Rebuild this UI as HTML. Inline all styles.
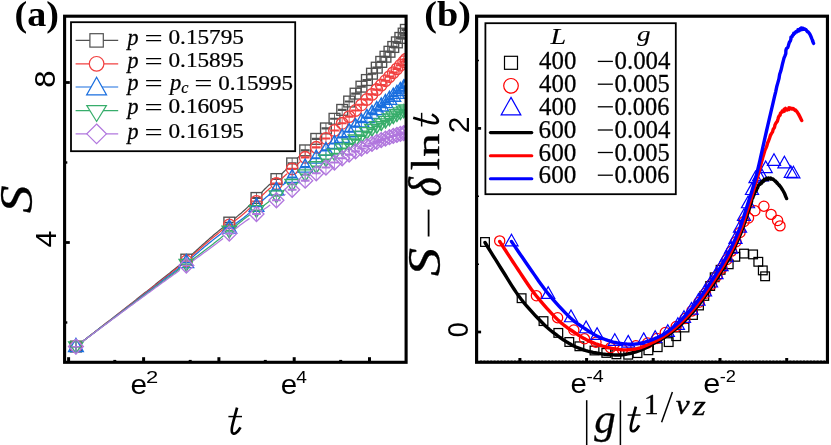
<!DOCTYPE html>
<html><head><meta charset="utf-8"><title>chart</title>
<style>html,body{margin:0;padding:0;background:#fff;}svg{display:block;will-change:transform;}.se{font-family:"Liberation Serif",serif;}.sa{font-family:"Liberation Sans",sans-serif;}</style></head><body>
<svg width="831" height="445" viewBox="0 0 831 445">
<rect x="0" y="0" width="831" height="445" fill="#fff"/>
<defs><clipPath id="ca"><rect x="64.6" y="16.2" width="341.5" height="346.1"/></clipPath>
<clipPath id="cb"><rect x="476.6" y="16.2" width="350.85" height="346.05"/></clipPath></defs>
<g clip-path="url(#ca)">
<polyline points="81.34,342.33 82.3,341.59 83.25,340.85 84.21,340.11 85.16,339.37 86.12,338.63 87.08,337.89 88.03,337.15 88.99,336.41 89.94,335.67 90.9,334.93 91.85,334.19 92.81,333.45 93.77,332.72 94.72,331.98 95.68,331.24 96.63,330.5 97.59,329.76 98.54,329.02 99.49,328.28 100.44,327.54 101.39,326.8 102.34,326.06 103.29,325.32 104.25,324.58 105.2,323.84 106.15,323.1 107.1,322.36 108.05,321.62 109,320.88 109.95,320.14 110.9,319.4 111.85,318.66 112.81,317.92 113.76,317.18 114.71,316.44 115.67,315.69 116.63,314.94 117.58,314.19 118.54,313.44 119.5,312.69 120.46,311.94 121.41,311.19 122.37,310.45 123.33,309.7 124.29,308.95 125.25,308.2 126.2,307.45 127.16,306.7 128.12,305.95 129.09,305.19 130.05,304.43 131.02,303.67 131.99,302.91 132.96,302.15 133.92,301.39 134.89,300.63 135.86,299.87 136.83,299.11 137.79,298.35 138.76,297.59 139.73,296.83 140.67,296.09 141.61,295.34 142.55,294.6 143.5,293.85 144.44,293.11 145.38,292.36 146.33,291.62 147.27,290.87 148.21,290.13 149.15,289.39 150.1,288.64 151.05,287.88 152,287.13 152.95,286.37 153.9,285.62 154.85,284.87 155.8,284.11 156.75,283.36 157.7,282.6 158.65,281.85 159.6,281.09 160.56,280.33 161.51,279.57 162.46,278.81 163.41,278.05 164.36,277.29 165.32,276.53 166.27,275.77 167.24,275 168.22,274.21 169.19,273.43 170.17,272.64 171.15,271.86 172.13,271.07 173.11,270.29 174.07,269.52 175.01,268.76 175.95,268.01 176.88,267.25 177.82,266.5 178.75,265.75 179.69,264.99 180.63,264.23 180.95,263.98" fill="none" stroke="#515151" stroke-width="1.25" stroke-linejoin="round"/>
<polyline points="191.3,255.08 192.23,254.23 193.14,253.39 194.06,252.55 194.98,251.71 195.89,250.87 196.81,250.03 197.72,249.2 198.63,248.37 199.55,247.54 200.46,246.71 201.37,245.89 202.28,245.06 203.19,244.24 204.11,243.43 205.02,242.61 205.93,241.79 206.85,240.98 207.77,240.17 208.69,239.36 209.62,238.56 210.54,237.75 211.47,236.95 212.41,236.15 213.35,235.35 214.29,234.55 215.24,233.75 216.2,232.96 217.17,232.16 218.13,231.37 219.11,230.57 220.11,229.77 221.12,228.97 222.12,228.17 223.09,227.4 224.04,226.66 224.04,226.66" fill="none" stroke="#515151" stroke-width="1.25" stroke-linejoin="round"/>
<polyline points="234.56,218.52 235.58,217.72 236.57,216.92 237.55,216.13 238.53,215.34 239.48,214.54 240.43,213.75 241.38,212.95 242.29,212.14 243.2,211.34 244.11,210.53 245,209.71 245.88,208.89 246.76,208.07 247.71,207.13 248.67,206.19 249.62,205.25 250.54,204.3 251.47,203.35 251.78,203.03" fill="none" stroke="#515151" stroke-width="1.25" stroke-linejoin="round"/>
<polyline points="261.22,192.81 262.13,191.84 263.04,190.88 263.92,189.97 264.81,189.06 265.68,188.2 266.54,187.36 267.44,186.5 268.41,185.59 269.38,184.72 270.34,183.89 270.97,183.34" fill="none" stroke="#515151" stroke-width="1.25" stroke-linejoin="round"/>
<polyline points="281.17,174.41 282.14,173.45 283.12,172.49 284.07,171.54 285.01,170.61 285.94,169.68 286.86,168.76 287.47,168.15" fill="none" stroke="#515151" stroke-width="1.25" stroke-linejoin="round"/>
<polyline points="296.98,158.64 297.97,157.65 298.95,156.66 299.92,155.69 300.24,155.37" fill="none" stroke="#515151" stroke-width="1.25" stroke-linejoin="round"/>
<polyline points="309.81,145.62 310.65,144.76 311.66,143.71 311.66,143.71" fill="none" stroke="#515151" stroke-width="1.25" stroke-linejoin="round"/>
<polyline points="320.94,133.88 321.26,133.53" fill="none" stroke="#515151" stroke-width="1.25" stroke-linejoin="round"/>
<rect x="70.53" y="341.12" width="10.8" height="10.8" fill="none" stroke="#515151" stroke-width="1.35"/>
<line x1="71.53" y1="346.52" x2="80.33" y2="346.52" stroke="#515151" stroke-width="1.27"/>
<line x1="75.93" y1="341.12" x2="75.93" y2="351.92" stroke="#515151" stroke-width="0.85"/>
<rect x="180.94" y="254.21" width="10.8" height="10.8" fill="none" stroke="#515151" stroke-width="1.35"/>
<line x1="181.94" y1="259.61" x2="190.74" y2="259.61" stroke="#515151" stroke-width="1.49"/>
<line x1="186.34" y1="254.21" x2="186.34" y2="265.01" stroke="#515151" stroke-width="0.85"/>
<rect x="223.9" y="217.2" width="10.8" height="10.8" fill="none" stroke="#515151" stroke-width="1.35"/>
<line x1="224.9" y1="222.6" x2="233.7" y2="222.6" stroke="#515151" stroke-width="1.71"/>
<line x1="229.3" y1="217.2" x2="229.3" y2="228" stroke="#515151" stroke-width="0.85"/>
<rect x="251.09" y="192.58" width="10.8" height="10.8" fill="none" stroke="#515151" stroke-width="1.35"/>
<line x1="252.09" y1="197.98" x2="260.89" y2="197.98" stroke="#515151" stroke-width="1.93"/>
<line x1="256.49" y1="192.58" x2="256.49" y2="203.38" stroke="#515151" stroke-width="0.85"/>
<rect x="271.02" y="173.66" width="10.8" height="10.8" fill="none" stroke="#515151" stroke-width="1.35"/>
<line x1="272.02" y1="179.06" x2="280.82" y2="179.06" stroke="#515151" stroke-width="2.1"/>
<line x1="276.42" y1="173.66" x2="276.42" y2="184.46" stroke="#515151" stroke-width="0.85"/>
<rect x="286.76" y="158.01" width="10.8" height="10.8" fill="none" stroke="#515151" stroke-width="1.35"/>
<line x1="287.76" y1="163.41" x2="296.56" y2="163.41" stroke="#515151" stroke-width="2.1"/>
<line x1="292.16" y1="158.01" x2="292.16" y2="168.81" stroke="#515151" stroke-width="0.85"/>
<rect x="299.78" y="144.97" width="10.8" height="10.8" fill="none" stroke="#515151" stroke-width="1.35"/>
<line x1="300.78" y1="150.37" x2="309.58" y2="150.37" stroke="#515151" stroke-width="2.1"/>
<line x1="305.18" y1="144.97" x2="305.18" y2="155.77" stroke="#515151" stroke-width="0.85"/>
<rect x="310.87" y="133.49" width="10.8" height="10.8" fill="none" stroke="#515151" stroke-width="1.35"/>
<line x1="311.87" y1="138.89" x2="320.67" y2="138.89" stroke="#515151" stroke-width="2.1"/>
<line x1="316.27" y1="133.49" x2="316.27" y2="144.29" stroke="#515151" stroke-width="0.85"/>
<rect x="320.54" y="123.01" width="10.8" height="10.8" fill="none" stroke="#515151" stroke-width="1.35"/>
<line x1="321.54" y1="128.41" x2="330.34" y2="128.41" stroke="#515151" stroke-width="2.1"/>
<line x1="325.94" y1="123.01" x2="325.94" y2="133.81" stroke="#515151" stroke-width="0.85"/>
<rect x="329.1" y="113.4" width="10.8" height="10.8" fill="none" stroke="#515151" stroke-width="1.35"/>
<line x1="330.1" y1="118.8" x2="338.9" y2="118.8" stroke="#515151" stroke-width="2.1"/>
<line x1="334.5" y1="113.4" x2="334.5" y2="124.2" stroke="#515151" stroke-width="0.85"/>
<rect x="336.8" y="104.49" width="10.8" height="10.8" fill="none" stroke="#515151" stroke-width="1.35"/>
<line x1="337.8" y1="109.89" x2="346.6" y2="109.89" stroke="#515151" stroke-width="2.1"/>
<line x1="342.2" y1="104.49" x2="342.2" y2="115.29" stroke="#515151" stroke-width="0.85"/>
<rect x="343.77" y="96.14" width="10.8" height="10.8" fill="none" stroke="#515151" stroke-width="1.35"/>
<line x1="344.77" y1="101.54" x2="353.57" y2="101.54" stroke="#515151" stroke-width="2.1"/>
<line x1="349.17" y1="96.14" x2="349.17" y2="106.94" stroke="#515151" stroke-width="0.85"/>
<rect x="350.16" y="88.26" width="10.8" height="10.8" fill="none" stroke="#515151" stroke-width="1.35"/>
<line x1="351.16" y1="93.66" x2="359.96" y2="93.66" stroke="#515151" stroke-width="2.1"/>
<line x1="355.56" y1="88.26" x2="355.56" y2="99.06" stroke="#515151" stroke-width="0.85"/>
<rect x="356.04" y="81.26" width="10.8" height="10.8" fill="none" stroke="#515151" stroke-width="1.35"/>
<line x1="357.04" y1="86.66" x2="365.84" y2="86.66" stroke="#515151" stroke-width="2.1"/>
<line x1="361.44" y1="81.26" x2="361.44" y2="92.06" stroke="#515151" stroke-width="0.85"/>
<rect x="361.5" y="74.62" width="10.8" height="10.8" fill="none" stroke="#515151" stroke-width="1.35"/>
<line x1="362.5" y1="80.02" x2="371.3" y2="80.02" stroke="#515151" stroke-width="2.1"/>
<line x1="366.9" y1="74.62" x2="366.9" y2="85.42" stroke="#515151" stroke-width="0.85"/>
<rect x="366.59" y="68.31" width="10.8" height="10.8" fill="none" stroke="#515151" stroke-width="1.35"/>
<line x1="367.59" y1="73.71" x2="376.39" y2="73.71" stroke="#515151" stroke-width="2.1"/>
<line x1="371.99" y1="68.31" x2="371.99" y2="79.11" stroke="#515151" stroke-width="0.85"/>
<rect x="371.36" y="62.27" width="10.8" height="10.8" fill="none" stroke="#515151" stroke-width="1.35"/>
<line x1="372.36" y1="67.67" x2="381.16" y2="67.67" stroke="#515151" stroke-width="2.1"/>
<line x1="376.76" y1="62.27" x2="376.76" y2="73.07" stroke="#515151" stroke-width="0.85"/>
<rect x="375.84" y="56.49" width="10.8" height="10.8" fill="none" stroke="#515151" stroke-width="1.35"/>
<line x1="376.84" y1="61.89" x2="385.64" y2="61.89" stroke="#515151" stroke-width="2.1"/>
<line x1="381.24" y1="56.49" x2="381.24" y2="67.29" stroke="#515151" stroke-width="0.85"/>
<rect x="380.07" y="51.31" width="10.8" height="10.8" fill="none" stroke="#515151" stroke-width="1.35"/>
<line x1="381.07" y1="56.71" x2="389.87" y2="56.71" stroke="#515151" stroke-width="2.1"/>
<line x1="385.47" y1="51.31" x2="385.47" y2="62.11" stroke="#515151" stroke-width="0.85"/>
<rect x="384.08" y="46.35" width="10.8" height="10.8" fill="none" stroke="#515151" stroke-width="1.35"/>
<line x1="385.08" y1="51.75" x2="393.88" y2="51.75" stroke="#515151" stroke-width="2.1"/>
<line x1="389.48" y1="46.35" x2="389.48" y2="57.15" stroke="#515151" stroke-width="0.85"/>
<rect x="387.88" y="41.57" width="10.8" height="10.8" fill="none" stroke="#515151" stroke-width="1.35"/>
<line x1="388.88" y1="46.97" x2="397.68" y2="46.97" stroke="#515151" stroke-width="2.1"/>
<line x1="393.28" y1="41.57" x2="393.28" y2="52.37" stroke="#515151" stroke-width="0.85"/>
<rect x="391.51" y="36.97" width="10.8" height="10.8" fill="none" stroke="#515151" stroke-width="1.35"/>
<line x1="392.51" y1="42.37" x2="401.31" y2="42.37" stroke="#515151" stroke-width="2.1"/>
<line x1="396.91" y1="36.97" x2="396.91" y2="47.77" stroke="#515151" stroke-width="0.85"/>
<rect x="394.96" y="32.52" width="10.8" height="10.8" fill="none" stroke="#515151" stroke-width="1.35"/>
<line x1="395.96" y1="37.92" x2="404.76" y2="37.92" stroke="#515151" stroke-width="2.1"/>
<line x1="400.36" y1="32.52" x2="400.36" y2="43.32" stroke="#515151" stroke-width="0.85"/>
<rect x="398.26" y="28.22" width="10.8" height="10.8" fill="none" stroke="#515151" stroke-width="1.35"/>
<line x1="399.26" y1="33.62" x2="408.06" y2="33.62" stroke="#515151" stroke-width="2.1"/>
<line x1="403.66" y1="28.22" x2="403.66" y2="39.02" stroke="#515151" stroke-width="0.85"/>
<rect x="400.49" y="24.5" width="10.8" height="10.8" fill="none" stroke="#515151" stroke-width="1.35"/>
<line x1="401.49" y1="29.9" x2="410.29" y2="29.9" stroke="#515151" stroke-width="2.1"/>
<line x1="405.89" y1="24.5" x2="405.89" y2="35.3" stroke="#515151" stroke-width="0.85"/>
<polyline points="81.34,342.36 82.3,341.63 83.25,340.9 84.21,340.16 85.16,339.43 86.12,338.7 87.08,337.96 88.03,337.23 88.99,336.5 89.94,335.76 90.9,335.03 91.85,334.3 92.81,333.56 93.77,332.83 94.72,332.09 95.68,331.36 96.63,330.63 97.59,329.89 98.54,329.16 99.49,328.43 100.44,327.7 101.39,326.96 102.34,326.23 103.29,325.5 104.25,324.77 105.2,324.04 106.15,323.3 107.1,322.57 108.05,321.84 109,321.11 109.95,320.38 110.9,319.64 111.85,318.91 112.81,318.18 113.76,317.45 114.71,316.71 115.67,315.97 116.63,315.23 117.58,314.49 118.54,313.76 119.5,313.02 120.46,312.28 121.41,311.54 122.37,310.8 123.33,310.06 124.29,309.32 125.25,308.58 126.2,307.84 127.16,307.1 128.12,306.36 129.09,305.61 130.05,304.86 131.02,304.12 131.99,303.37 132.96,302.62 133.92,301.87 134.89,301.12 135.86,300.37 136.83,299.62 137.79,298.87 138.76,298.13 139.73,297.38 140.7,296.62 141.67,295.87 142.65,295.11 143.62,294.36 144.59,293.6 145.57,292.85 146.54,292.09 147.51,291.33 148.48,290.58 149.46,289.82 150.42,289.08 151.37,288.34 152.32,287.6 153.27,286.86 154.22,286.12 155.17,285.38 156.12,284.64 157.07,283.9 158.02,283.16 158.97,282.42 159.92,281.68 160.87,280.94 161.82,280.19 162.78,279.45 163.73,278.71 164.68,277.96 165.63,277.22 166.58,276.48 167.56,275.71 168.54,274.95 169.52,274.18 170.5,273.41 171.48,272.65 172.46,271.88 173.44,271.12 174.42,270.35 175.4,269.58 176.38,268.8 177.37,268.03 178.35,267.26 179.33,266.49 180.31,265.72 180.95,265.22" fill="none" stroke="#F14040" stroke-width="1.25" stroke-linejoin="round"/>
<polyline points="191.3,256.53 192.23,255.7 193.14,254.88 194.06,254.06 194.98,253.23 195.89,252.41 196.81,251.59 197.72,250.78 198.63,249.97 199.55,249.16 200.46,248.35 201.37,247.54 202.28,246.73 203.19,245.93 204.11,245.13 205.02,244.34 205.93,243.54 206.85,242.74 207.77,241.96 208.69,241.17 209.62,240.38 210.54,239.6 211.47,238.82 212.41,238.04 213.35,237.27 214.29,236.49 215.24,235.71 216.2,234.94 217.17,234.17 218.13,233.4 219.11,232.63 220.11,231.85 221.12,231.08 222.12,230.3 223.15,229.51 223.85,228.99" fill="none" stroke="#F14040" stroke-width="1.25" stroke-linejoin="round"/>
<polyline points="234.9,220.77 235.91,220.01 236.89,219.25 237.88,218.49 238.85,217.73 239.8,216.97 240.74,216.21 241.72,215.41 242.75,214.55 243.77,213.68 244.78,212.8 245.77,211.92 246.76,211.03 247.71,210.13 248.67,209.24 249.62,208.33 250.54,207.42 251.47,206.51 251.78,206.21" fill="none" stroke="#F14040" stroke-width="1.25" stroke-linejoin="round"/>
<polyline points="261.22,196.43 262.13,195.5 263.04,194.58 263.92,193.72 264.81,192.86 265.77,191.95 266.78,191.02 267.76,190.15 268.74,189.3 269.7,188.5 270.65,187.73 270.97,187.47" fill="none" stroke="#F14040" stroke-width="1.25" stroke-linejoin="round"/>
<polyline points="281.5,178.85 282.47,177.96 283.43,177.07 284.38,176.19 285.32,175.32 286.25,174.45 287.17,173.6 287.17,173.6" fill="none" stroke="#F14040" stroke-width="1.25" stroke-linejoin="round"/>
<polyline points="297.31,164.35 298.3,163.47 299.27,162.6 300.24,161.74 300.24,161.74" fill="none" stroke="#F14040" stroke-width="1.25" stroke-linejoin="round"/>
<polyline points="310.19,152.83 311.3,151.83 311.3,151.83" fill="none" stroke="#F14040" stroke-width="1.25" stroke-linejoin="round"/>
<circle cx="75.93" cy="346.52" r="5.8" fill="none" stroke="#F14040" stroke-width="1.35"/>
<line x1="71.53" y1="346.52" x2="80.33" y2="346.52" stroke="#F14040" stroke-width="1.27"/>
<line x1="75.93" y1="340.72" x2="75.93" y2="352.32" stroke="#F14040" stroke-width="0.85"/>
<circle cx="186.34" cy="260.98" r="5.8" fill="none" stroke="#F14040" stroke-width="1.35"/>
<line x1="181.94" y1="260.98" x2="190.74" y2="260.98" stroke="#F14040" stroke-width="1.49"/>
<line x1="186.34" y1="255.18" x2="186.34" y2="266.78" stroke="#F14040" stroke-width="0.85"/>
<circle cx="229.3" cy="224.93" r="5.8" fill="none" stroke="#F14040" stroke-width="1.35"/>
<line x1="224.9" y1="224.93" x2="233.7" y2="224.93" stroke="#F14040" stroke-width="1.71"/>
<line x1="229.3" y1="219.13" x2="229.3" y2="230.73" stroke="#F14040" stroke-width="0.85"/>
<circle cx="256.49" cy="201.36" r="5.8" fill="none" stroke="#F14040" stroke-width="1.35"/>
<line x1="252.09" y1="201.36" x2="260.89" y2="201.36" stroke="#F14040" stroke-width="1.93"/>
<line x1="256.49" y1="195.56" x2="256.49" y2="207.16" stroke="#F14040" stroke-width="0.85"/>
<circle cx="276.42" cy="183.51" r="5.8" fill="none" stroke="#F14040" stroke-width="1.35"/>
<line x1="272.02" y1="183.51" x2="280.82" y2="183.51" stroke="#F14040" stroke-width="2.1"/>
<line x1="276.42" y1="177.71" x2="276.42" y2="189.31" stroke="#F14040" stroke-width="0.85"/>
<circle cx="292.16" cy="168.92" r="5.8" fill="none" stroke="#F14040" stroke-width="1.35"/>
<line x1="287.76" y1="168.92" x2="296.56" y2="168.92" stroke="#F14040" stroke-width="2.1"/>
<line x1="292.16" y1="163.12" x2="292.16" y2="174.72" stroke="#F14040" stroke-width="0.85"/>
<circle cx="305.18" cy="157.33" r="5.8" fill="none" stroke="#F14040" stroke-width="1.35"/>
<line x1="300.78" y1="157.33" x2="309.58" y2="157.33" stroke="#F14040" stroke-width="2.1"/>
<line x1="305.18" y1="151.53" x2="305.18" y2="163.13" stroke="#F14040" stroke-width="0.85"/>
<circle cx="316.27" cy="147.34" r="5.8" fill="none" stroke="#F14040" stroke-width="1.35"/>
<line x1="311.87" y1="147.34" x2="320.67" y2="147.34" stroke="#F14040" stroke-width="2.1"/>
<line x1="316.27" y1="141.54" x2="316.27" y2="153.14" stroke="#F14040" stroke-width="0.85"/>
<circle cx="325.94" cy="138.45" r="5.8" fill="none" stroke="#F14040" stroke-width="1.35"/>
<line x1="321.54" y1="138.45" x2="330.34" y2="138.45" stroke="#F14040" stroke-width="2.1"/>
<line x1="325.94" y1="132.65" x2="325.94" y2="144.25" stroke="#F14040" stroke-width="0.85"/>
<circle cx="334.5" cy="130.49" r="5.8" fill="none" stroke="#F14040" stroke-width="1.35"/>
<line x1="330.1" y1="130.49" x2="338.9" y2="130.49" stroke="#F14040" stroke-width="2.1"/>
<line x1="334.5" y1="124.69" x2="334.5" y2="136.29" stroke="#F14040" stroke-width="0.85"/>
<circle cx="342.2" cy="123.26" r="5.8" fill="none" stroke="#F14040" stroke-width="1.35"/>
<line x1="337.8" y1="123.26" x2="346.6" y2="123.26" stroke="#F14040" stroke-width="2.1"/>
<line x1="342.2" y1="117.46" x2="342.2" y2="129.06" stroke="#F14040" stroke-width="0.85"/>
<circle cx="349.17" cy="116.62" r="5.8" fill="none" stroke="#F14040" stroke-width="1.35"/>
<line x1="344.77" y1="116.62" x2="353.57" y2="116.62" stroke="#F14040" stroke-width="2.1"/>
<line x1="349.17" y1="110.82" x2="349.17" y2="122.42" stroke="#F14040" stroke-width="0.85"/>
<circle cx="355.56" cy="110.48" r="5.8" fill="none" stroke="#F14040" stroke-width="1.35"/>
<line x1="351.16" y1="110.48" x2="359.96" y2="110.48" stroke="#F14040" stroke-width="2.1"/>
<line x1="355.56" y1="104.68" x2="355.56" y2="116.28" stroke="#F14040" stroke-width="0.85"/>
<circle cx="361.44" cy="104.76" r="5.8" fill="none" stroke="#F14040" stroke-width="1.35"/>
<line x1="357.04" y1="104.76" x2="365.84" y2="104.76" stroke="#F14040" stroke-width="2.1"/>
<line x1="361.44" y1="98.96" x2="361.44" y2="110.56" stroke="#F14040" stroke-width="0.85"/>
<circle cx="366.9" cy="99.4" r="5.8" fill="none" stroke="#F14040" stroke-width="1.35"/>
<line x1="362.5" y1="99.4" x2="371.3" y2="99.4" stroke="#F14040" stroke-width="2.1"/>
<line x1="366.9" y1="93.6" x2="366.9" y2="105.2" stroke="#F14040" stroke-width="0.85"/>
<circle cx="371.99" cy="94.36" r="5.8" fill="none" stroke="#F14040" stroke-width="1.35"/>
<line x1="367.59" y1="94.36" x2="376.39" y2="94.36" stroke="#F14040" stroke-width="2.1"/>
<line x1="371.99" y1="88.56" x2="371.99" y2="100.16" stroke="#F14040" stroke-width="0.85"/>
<circle cx="376.76" cy="89.59" r="5.8" fill="none" stroke="#F14040" stroke-width="1.35"/>
<line x1="372.36" y1="89.59" x2="381.16" y2="89.59" stroke="#F14040" stroke-width="2.1"/>
<line x1="376.76" y1="83.79" x2="376.76" y2="95.39" stroke="#F14040" stroke-width="0.85"/>
<circle cx="381.24" cy="85.06" r="5.8" fill="none" stroke="#F14040" stroke-width="1.35"/>
<line x1="376.84" y1="85.06" x2="385.64" y2="85.06" stroke="#F14040" stroke-width="2.1"/>
<line x1="381.24" y1="79.26" x2="381.24" y2="90.86" stroke="#F14040" stroke-width="0.85"/>
<circle cx="385.47" cy="80.74" r="5.8" fill="none" stroke="#F14040" stroke-width="1.35"/>
<line x1="381.07" y1="80.74" x2="389.87" y2="80.74" stroke="#F14040" stroke-width="2.1"/>
<line x1="385.47" y1="74.94" x2="385.47" y2="86.54" stroke="#F14040" stroke-width="0.85"/>
<circle cx="389.48" cy="76.62" r="5.8" fill="none" stroke="#F14040" stroke-width="1.35"/>
<line x1="385.08" y1="76.62" x2="393.88" y2="76.62" stroke="#F14040" stroke-width="2.1"/>
<line x1="389.48" y1="70.82" x2="389.48" y2="82.42" stroke="#F14040" stroke-width="0.85"/>
<circle cx="393.28" cy="72.67" r="5.8" fill="none" stroke="#F14040" stroke-width="1.35"/>
<line x1="388.88" y1="72.67" x2="397.68" y2="72.67" stroke="#F14040" stroke-width="2.1"/>
<line x1="393.28" y1="66.87" x2="393.28" y2="78.47" stroke="#F14040" stroke-width="0.85"/>
<circle cx="396.91" cy="68.88" r="5.8" fill="none" stroke="#F14040" stroke-width="1.35"/>
<line x1="392.51" y1="68.88" x2="401.31" y2="68.88" stroke="#F14040" stroke-width="2.1"/>
<line x1="396.91" y1="63.08" x2="396.91" y2="74.68" stroke="#F14040" stroke-width="0.85"/>
<circle cx="400.36" cy="65.23" r="5.8" fill="none" stroke="#F14040" stroke-width="1.35"/>
<line x1="395.96" y1="65.23" x2="404.76" y2="65.23" stroke="#F14040" stroke-width="2.1"/>
<line x1="400.36" y1="59.43" x2="400.36" y2="71.03" stroke="#F14040" stroke-width="0.85"/>
<circle cx="403.66" cy="61.72" r="5.8" fill="none" stroke="#F14040" stroke-width="1.35"/>
<line x1="399.26" y1="61.72" x2="408.06" y2="61.72" stroke="#F14040" stroke-width="2.1"/>
<line x1="403.66" y1="55.92" x2="403.66" y2="67.52" stroke="#F14040" stroke-width="0.85"/>
<circle cx="405.89" cy="59.33" r="5.8" fill="none" stroke="#F14040" stroke-width="1.35"/>
<line x1="401.49" y1="59.33" x2="410.29" y2="59.33" stroke="#F14040" stroke-width="2.1"/>
<line x1="405.89" y1="53.53" x2="405.89" y2="65.13" stroke="#F14040" stroke-width="0.85"/>
<polyline points="81.98,341.92 82.93,341.19 83.89,340.47 84.85,339.74 85.8,339.01 86.76,338.29 87.71,337.56 88.67,336.84 89.62,336.11 90.58,335.38 91.54,334.66 92.49,333.93 93.45,333.2 94.4,332.48 95.36,331.75 96.31,331.02 97.27,330.3 98.23,329.56 99.2,328.83 100.17,328.09 101.14,327.35 102.11,326.62 103.08,325.88 104.05,325.14 105.02,324.4 105.99,323.67 106.96,322.93 107.93,322.19 108.9,321.46 109.87,320.72 110.84,319.98 111.81,319.25 112.78,318.51 113.74,317.77 114.71,317.04 115.67,316.31 116.63,315.58 117.58,314.85 118.54,314.13 119.5,313.4 120.46,312.67 121.41,311.94 122.37,311.21 123.33,310.48 124.29,309.76 125.25,309.03 126.2,308.3 127.16,307.57 128.12,306.84 129.09,306.11 130.05,305.37 131.02,304.64 131.99,303.9 132.96,303.17 133.92,302.43 134.89,301.7 135.86,300.96 136.83,300.23 137.79,299.49 138.76,298.76 139.73,298.02 140.7,297.28 141.67,296.54 142.65,295.8 143.62,295.06 144.59,294.32 145.57,293.58 146.54,292.84 147.51,292.1 148.48,291.36 149.46,290.62 150.44,289.88 151.42,289.13 152.41,288.38 153.4,287.63 154.38,286.88 155.37,286.13 156.35,285.38 157.34,284.63 158.32,283.88 159.31,283.13 160.3,282.38 161.3,281.62 162.29,280.87 163.28,280.12 164.27,279.36 165.26,278.61 166.25,277.85 167.24,277.11 168.22,276.36 169.19,275.62 170.17,274.88 171.15,274.13 172.13,273.39 173.11,272.64 174.09,271.9 175.07,271.15 176.05,270.4 177.04,269.66 178.02,268.91 179,268.16 179.99,267.42 179.99,267.42" fill="none" stroke="#1A6FDF" stroke-width="1.25" stroke-linejoin="round"/>
<polyline points="192.23,257.46 193.14,256.67 194.06,255.87 194.98,255.07 195.89,254.28 196.81,253.48 197.72,252.7 198.63,251.91 199.55,251.13 200.46,250.35 201.37,249.57 202.3,248.77 203.28,247.95 204.26,247.13 205.24,246.3 206.21,245.48 207.2,244.67 208.2,243.85 209.19,243.04 210.18,242.23 211.18,241.42 212.2,240.62 213.22,239.82 214.24,239.01 215.24,238.23 216.2,237.5 217.17,236.77 218.13,236.03 219.11,235.3 220.11,234.57 221.12,233.84 222.12,233.1 222.8,232.61" fill="none" stroke="#1A6FDF" stroke-width="1.25" stroke-linejoin="round"/>
<polyline points="235.58,223.73 236.57,223.03 237.55,222.33 238.53,221.62 239.6,220.83 240.67,220.04 241.72,219.24 242.75,218.44 243.77,217.64 244.78,216.83 245.77,216.01 246.76,215.19 247.71,214.36 248.67,213.52 249.62,212.68 250.54,211.84 250.85,211.56" fill="none" stroke="#1A6FDF" stroke-width="1.25" stroke-linejoin="round"/>
<polyline points="262.13,200.83 263.04,199.98 264.07,199.07 265.1,198.16 266.11,197.32 267.11,196.48 268.09,195.73 269.07,194.97 269.83,194.43" fill="none" stroke="#1A6FDF" stroke-width="1.25" stroke-linejoin="round"/>
<polyline points="282.47,185.35 283.43,184.57 284.38,183.81 285.48,182.93 285.87,182.62" fill="none" stroke="#1A6FDF" stroke-width="1.25" stroke-linejoin="round"/>
<polyline points="298.3,172.63 298.95,172.11" fill="none" stroke="#1A6FDF" stroke-width="1.25" stroke-linejoin="round"/>
<polygon points="75.93,338.4 83.3,351.5 68.55,351.5" fill="none" stroke="#1A6FDF" stroke-width="1.35" stroke-linejoin="miter"/>
<line x1="71.53" y1="346.52" x2="80.33" y2="346.52" stroke="#1A6FDF" stroke-width="1.27"/>
<line x1="75.93" y1="339.27" x2="75.93" y2="353.78" stroke="#1A6FDF" stroke-width="0.85"/>
<polygon points="186.34,254.46 193.71,267.56 178.97,267.56" fill="none" stroke="#1A6FDF" stroke-width="1.35" stroke-linejoin="miter"/>
<line x1="181.94" y1="262.58" x2="190.74" y2="262.58" stroke="#1A6FDF" stroke-width="1.49"/>
<line x1="186.34" y1="255.33" x2="186.34" y2="269.84" stroke="#1A6FDF" stroke-width="0.85"/>
<polygon points="229.3,219.94 236.67,233.05 221.93,233.05" fill="none" stroke="#1A6FDF" stroke-width="1.35" stroke-linejoin="miter"/>
<line x1="224.9" y1="228.07" x2="233.7" y2="228.07" stroke="#1A6FDF" stroke-width="1.71"/>
<line x1="229.3" y1="220.81" x2="229.3" y2="235.32" stroke="#1A6FDF" stroke-width="0.85"/>
<polygon points="256.49,198.1 263.86,211.2 249.12,211.2" fill="none" stroke="#1A6FDF" stroke-width="1.35" stroke-linejoin="miter"/>
<line x1="252.09" y1="206.22" x2="260.89" y2="206.22" stroke="#1A6FDF" stroke-width="1.93"/>
<line x1="256.49" y1="198.97" x2="256.49" y2="213.48" stroke="#1A6FDF" stroke-width="0.85"/>
<polygon points="276.42,182.09 283.79,195.19 269.05,195.19" fill="none" stroke="#1A6FDF" stroke-width="1.35" stroke-linejoin="miter"/>
<line x1="272.02" y1="190.21" x2="280.82" y2="190.21" stroke="#1A6FDF" stroke-width="2.1"/>
<line x1="276.42" y1="182.96" x2="276.42" y2="197.46" stroke="#1A6FDF" stroke-width="0.85"/>
<polygon points="292.16,169.44 299.53,182.54 284.79,182.54" fill="none" stroke="#1A6FDF" stroke-width="1.35" stroke-linejoin="miter"/>
<line x1="287.76" y1="177.56" x2="296.56" y2="177.56" stroke="#1A6FDF" stroke-width="2.1"/>
<line x1="292.16" y1="170.31" x2="292.16" y2="184.81" stroke="#1A6FDF" stroke-width="0.85"/>
<polygon points="305.18,158.98 312.55,172.08 297.81,172.08" fill="none" stroke="#1A6FDF" stroke-width="1.35" stroke-linejoin="miter"/>
<line x1="300.78" y1="167.1" x2="309.58" y2="167.1" stroke="#1A6FDF" stroke-width="2.1"/>
<line x1="305.18" y1="159.85" x2="305.18" y2="174.36" stroke="#1A6FDF" stroke-width="0.85"/>
<polygon points="316.27,150.06 323.64,163.17 308.9,163.17" fill="none" stroke="#1A6FDF" stroke-width="1.35" stroke-linejoin="miter"/>
<line x1="311.87" y1="158.19" x2="320.67" y2="158.19" stroke="#1A6FDF" stroke-width="2.1"/>
<line x1="316.27" y1="150.94" x2="316.27" y2="165.44" stroke="#1A6FDF" stroke-width="0.85"/>
<polygon points="325.94,142.3 333.31,155.4 318.57,155.4" fill="none" stroke="#1A6FDF" stroke-width="1.35" stroke-linejoin="miter"/>
<line x1="321.54" y1="150.42" x2="330.34" y2="150.42" stroke="#1A6FDF" stroke-width="2.1"/>
<line x1="325.94" y1="143.17" x2="325.94" y2="157.68" stroke="#1A6FDF" stroke-width="0.85"/>
<polygon points="334.5,135.42 341.88,148.52 327.13,148.52" fill="none" stroke="#1A6FDF" stroke-width="1.35" stroke-linejoin="miter"/>
<line x1="330.1" y1="143.54" x2="338.9" y2="143.54" stroke="#1A6FDF" stroke-width="2.1"/>
<line x1="334.5" y1="136.29" x2="334.5" y2="150.79" stroke="#1A6FDF" stroke-width="0.85"/>
<polygon points="342.2,129.24 349.57,142.34 334.82,142.34" fill="none" stroke="#1A6FDF" stroke-width="1.35" stroke-linejoin="miter"/>
<line x1="337.8" y1="137.36" x2="346.6" y2="137.36" stroke="#1A6FDF" stroke-width="2.1"/>
<line x1="342.2" y1="130.11" x2="342.2" y2="144.61" stroke="#1A6FDF" stroke-width="0.85"/>
<polygon points="349.17,123.63 356.54,136.73 341.8,136.73" fill="none" stroke="#1A6FDF" stroke-width="1.35" stroke-linejoin="miter"/>
<line x1="344.77" y1="131.75" x2="353.57" y2="131.75" stroke="#1A6FDF" stroke-width="2.1"/>
<line x1="349.17" y1="124.5" x2="349.17" y2="139.01" stroke="#1A6FDF" stroke-width="0.85"/>
<polygon points="355.56,118.5 362.93,131.6 348.19,131.6" fill="none" stroke="#1A6FDF" stroke-width="1.35" stroke-linejoin="miter"/>
<line x1="351.16" y1="126.62" x2="359.96" y2="126.62" stroke="#1A6FDF" stroke-width="2.1"/>
<line x1="355.56" y1="119.37" x2="355.56" y2="133.88" stroke="#1A6FDF" stroke-width="0.85"/>
<polygon points="361.44,113.77 368.81,126.87 354.07,126.87" fill="none" stroke="#1A6FDF" stroke-width="1.35" stroke-linejoin="miter"/>
<line x1="357.04" y1="121.9" x2="365.84" y2="121.9" stroke="#1A6FDF" stroke-width="2.1"/>
<line x1="361.44" y1="114.64" x2="361.44" y2="129.15" stroke="#1A6FDF" stroke-width="0.85"/>
<polygon points="366.9,109.38 374.27,122.49 359.53,122.49" fill="none" stroke="#1A6FDF" stroke-width="1.35" stroke-linejoin="miter"/>
<line x1="362.5" y1="117.51" x2="371.3" y2="117.51" stroke="#1A6FDF" stroke-width="2.1"/>
<line x1="366.9" y1="110.26" x2="366.9" y2="124.76" stroke="#1A6FDF" stroke-width="0.85"/>
<polygon points="371.99,105.3 379.36,118.4 364.62,118.4" fill="none" stroke="#1A6FDF" stroke-width="1.35" stroke-linejoin="miter"/>
<line x1="367.59" y1="113.42" x2="376.39" y2="113.42" stroke="#1A6FDF" stroke-width="2.1"/>
<line x1="371.99" y1="106.17" x2="371.99" y2="120.67" stroke="#1A6FDF" stroke-width="0.85"/>
<polygon points="376.76,101.46 384.13,114.57 369.39,114.57" fill="none" stroke="#1A6FDF" stroke-width="1.35" stroke-linejoin="miter"/>
<line x1="372.36" y1="109.59" x2="381.16" y2="109.59" stroke="#1A6FDF" stroke-width="2.1"/>
<line x1="376.76" y1="102.34" x2="376.76" y2="116.84" stroke="#1A6FDF" stroke-width="0.85"/>
<polygon points="381.24,97.86 388.61,110.97 373.87,110.97" fill="none" stroke="#1A6FDF" stroke-width="1.35" stroke-linejoin="miter"/>
<line x1="376.84" y1="105.99" x2="385.64" y2="105.99" stroke="#1A6FDF" stroke-width="2.1"/>
<line x1="381.24" y1="98.73" x2="381.24" y2="113.24" stroke="#1A6FDF" stroke-width="0.85"/>
<polygon points="385.47,94.46 392.85,107.57 378.1,107.57" fill="none" stroke="#1A6FDF" stroke-width="1.35" stroke-linejoin="miter"/>
<line x1="381.07" y1="102.59" x2="389.87" y2="102.59" stroke="#1A6FDF" stroke-width="2.1"/>
<line x1="385.47" y1="95.33" x2="385.47" y2="109.84" stroke="#1A6FDF" stroke-width="0.85"/>
<polygon points="389.48,91.24 396.85,104.35 382.11,104.35" fill="none" stroke="#1A6FDF" stroke-width="1.35" stroke-linejoin="miter"/>
<line x1="385.08" y1="99.37" x2="393.88" y2="99.37" stroke="#1A6FDF" stroke-width="2.1"/>
<line x1="389.48" y1="92.11" x2="389.48" y2="106.62" stroke="#1A6FDF" stroke-width="0.85"/>
<polygon points="393.28,88.19 400.66,101.29 385.91,101.29" fill="none" stroke="#1A6FDF" stroke-width="1.35" stroke-linejoin="miter"/>
<line x1="388.88" y1="96.31" x2="397.68" y2="96.31" stroke="#1A6FDF" stroke-width="2.1"/>
<line x1="393.28" y1="89.06" x2="393.28" y2="103.57" stroke="#1A6FDF" stroke-width="0.85"/>
<polygon points="396.91,85.28 404.28,98.38 389.53,98.38" fill="none" stroke="#1A6FDF" stroke-width="1.35" stroke-linejoin="miter"/>
<line x1="392.51" y1="93.4" x2="401.31" y2="93.4" stroke="#1A6FDF" stroke-width="2.1"/>
<line x1="396.91" y1="86.15" x2="396.91" y2="100.66" stroke="#1A6FDF" stroke-width="0.85"/>
<polygon points="400.36,82.5 407.73,95.61 392.99,95.61" fill="none" stroke="#1A6FDF" stroke-width="1.35" stroke-linejoin="miter"/>
<line x1="395.96" y1="90.63" x2="404.76" y2="90.63" stroke="#1A6FDF" stroke-width="2.1"/>
<line x1="400.36" y1="83.37" x2="400.36" y2="97.88" stroke="#1A6FDF" stroke-width="0.85"/>
<polygon points="403.66,79.85 411.03,92.95 396.29,92.95" fill="none" stroke="#1A6FDF" stroke-width="1.35" stroke-linejoin="miter"/>
<line x1="399.26" y1="87.97" x2="408.06" y2="87.97" stroke="#1A6FDF" stroke-width="2.1"/>
<line x1="403.66" y1="80.72" x2="403.66" y2="95.23" stroke="#1A6FDF" stroke-width="0.85"/>
<polygon points="405.89,78.06 413.26,91.16 398.52,91.16" fill="none" stroke="#1A6FDF" stroke-width="1.35" stroke-linejoin="miter"/>
<line x1="401.49" y1="86.18" x2="410.29" y2="86.18" stroke="#1A6FDF" stroke-width="2.1"/>
<line x1="405.89" y1="78.93" x2="405.89" y2="93.44" stroke="#1A6FDF" stroke-width="0.85"/>
<polyline points="82.07,341.9 83.04,341.17 84.01,340.44 84.98,339.71 85.95,338.98 86.92,338.25 87.89,337.52 88.86,336.79 89.83,336.06 90.8,335.33 91.77,334.6 92.74,333.87 93.71,333.14 94.68,332.41 95.65,331.68 96.62,330.95 97.59,330.22 98.56,329.49 99.53,328.76 100.5,328.03 101.47,327.3 102.43,326.58 103.4,325.85 104.37,325.12 105.34,324.39 106.31,323.67 107.28,322.94 108.25,322.21 109.22,321.48 110.19,320.76 111.16,320.03 112.13,319.3 113.1,318.57 114.07,317.84 115.04,317.11 116.03,316.38 117.01,315.65 117.99,314.91 118.97,314.18 119.95,313.44 120.93,312.71 121.91,311.98 122.89,311.24 123.87,310.51 124.85,309.77 125.83,309.04 126.81,308.31 127.79,307.57 128.76,306.85 129.73,306.12 130.7,305.4 131.67,304.68 132.63,303.96 133.6,303.24 134.57,302.51 135.54,301.79 136.5,301.07 137.47,300.35 138.44,299.63 139.4,298.9 140.38,298.18 141.35,297.46 142.32,296.73 143.29,296.01 144.27,295.28 145.24,294.56 146.21,293.84 147.19,293.11 148.16,292.39 149.13,291.66 150.11,290.94 151.1,290.21 152.08,289.47 153.07,288.74 154.05,288.01 155.04,287.28 156.02,286.55 157.01,285.82 157.99,285.09 158.98,284.35 159.97,283.62 160.96,282.89 161.96,282.15 162.95,281.42 163.94,280.69 164.93,279.95 165.92,279.22 166.91,278.49 167.89,277.77 168.87,277.04 169.85,276.32 170.83,275.6 171.8,274.88 172.78,274.16 173.76,273.43 174.74,272.71 175.73,271.99 176.71,271.26 177.69,270.54 178.68,269.82 179.66,269.1 179.99,268.85" fill="none" stroke="#37AD6B" stroke-width="1.25" stroke-linejoin="round"/>
<polyline points="192.57,259.54 193.54,258.81 194.52,258.08 195.49,257.36 196.47,256.63 197.44,255.9 198.41,255.17 199.38,254.44 200.36,253.72 201.33,252.99 202.3,252.25 203.28,251.51 204.26,250.77 205.24,250.03 206.21,249.29 207.2,248.54 208.2,247.78 209.19,247.02 210.18,246.26 211.18,245.48 212.2,244.69 213.22,243.9 214.24,243.1 215.24,242.32 216.2,241.56 217.17,240.79 218.13,240.03 219.11,239.25 220.11,238.44 221.12,237.63 222.12,236.83 223.09,236.04 223.41,235.78" fill="none" stroke="#37AD6B" stroke-width="1.25" stroke-linejoin="round"/>
<polyline points="235.24,226.09 236.24,225.28 237.22,224.49 238.21,223.69 239.17,222.93 240.11,222.18 241.06,221.44 242.06,220.66 243.09,219.87 244.11,219.08 245.11,218.34 246.1,217.6 247.12,216.85 248.22,216.06 249.31,215.27 250.02,214.78" fill="none" stroke="#37AD6B" stroke-width="1.25" stroke-linejoin="round"/>
<polyline points="263.04,205.96 264.07,205.24 265.1,204.52 266.11,203.79 267.11,203.06 268.09,202.32 269.07,201.58 270.02,200.84 270.34,200.59" fill="none" stroke="#37AD6B" stroke-width="1.25" stroke-linejoin="round"/>
<polyline points="282.79,190.95 283.91,190.14 285.09,189.29 285.87,188.72" fill="none" stroke="#37AD6B" stroke-width="1.25" stroke-linejoin="round"/>
<polyline points="298.3,179.64 298.95,179.16" fill="none" stroke="#37AD6B" stroke-width="1.25" stroke-linejoin="round"/>
<polygon points="75.93,353.54 83.18,341.84 68.67,341.84" fill="none" stroke="#37AD6B" stroke-width="1.35" stroke-linejoin="miter"/>
<line x1="71.53" y1="346.52" x2="80.33" y2="346.52" stroke="#37AD6B" stroke-width="1.27"/>
<line x1="75.93" y1="339.27" x2="75.93" y2="353.78" stroke="#37AD6B" stroke-width="0.85"/>
<polygon points="186.34,271.21 193.59,259.51 179.09,259.51" fill="none" stroke="#37AD6B" stroke-width="1.35" stroke-linejoin="miter"/>
<line x1="181.94" y1="264.19" x2="190.74" y2="264.19" stroke="#37AD6B" stroke-width="1.49"/>
<line x1="186.34" y1="256.94" x2="186.34" y2="271.45" stroke="#37AD6B" stroke-width="0.85"/>
<polygon points="229.3,237.98 236.56,226.28 222.05,226.28" fill="none" stroke="#37AD6B" stroke-width="1.35" stroke-linejoin="miter"/>
<line x1="224.9" y1="230.96" x2="233.7" y2="230.96" stroke="#37AD6B" stroke-width="1.71"/>
<line x1="229.3" y1="223.71" x2="229.3" y2="238.21" stroke="#37AD6B" stroke-width="0.85"/>
<polygon points="256.49,217.39 263.74,205.69 249.23,205.69" fill="none" stroke="#37AD6B" stroke-width="1.35" stroke-linejoin="miter"/>
<line x1="252.09" y1="210.37" x2="260.89" y2="210.37" stroke="#37AD6B" stroke-width="1.93"/>
<line x1="256.49" y1="203.11" x2="256.49" y2="217.62" stroke="#37AD6B" stroke-width="0.85"/>
<polygon points="276.42,202.62 283.67,190.92 269.16,190.92" fill="none" stroke="#37AD6B" stroke-width="1.35" stroke-linejoin="miter"/>
<line x1="272.02" y1="195.6" x2="280.82" y2="195.6" stroke="#37AD6B" stroke-width="2.1"/>
<line x1="276.42" y1="188.34" x2="276.42" y2="202.85" stroke="#37AD6B" stroke-width="0.85"/>
<polygon points="292.16,191.21 299.42,179.51 284.91,179.51" fill="none" stroke="#37AD6B" stroke-width="1.35" stroke-linejoin="miter"/>
<line x1="287.76" y1="184.19" x2="296.56" y2="184.19" stroke="#37AD6B" stroke-width="2.1"/>
<line x1="292.16" y1="176.94" x2="292.16" y2="191.45" stroke="#37AD6B" stroke-width="0.85"/>
<polygon points="305.18,181.58 312.43,169.88 297.92,169.88" fill="none" stroke="#37AD6B" stroke-width="1.35" stroke-linejoin="miter"/>
<line x1="300.78" y1="174.56" x2="309.58" y2="174.56" stroke="#37AD6B" stroke-width="2.1"/>
<line x1="305.18" y1="167.31" x2="305.18" y2="181.81" stroke="#37AD6B" stroke-width="0.85"/>
<polygon points="316.27,173.45 323.53,161.75 309.02,161.75" fill="none" stroke="#37AD6B" stroke-width="1.35" stroke-linejoin="miter"/>
<line x1="311.87" y1="166.43" x2="320.67" y2="166.43" stroke="#37AD6B" stroke-width="2.1"/>
<line x1="316.27" y1="159.18" x2="316.27" y2="173.68" stroke="#37AD6B" stroke-width="0.85"/>
<polygon points="325.94,166.66 333.19,154.96 318.68,154.96" fill="none" stroke="#37AD6B" stroke-width="1.35" stroke-linejoin="miter"/>
<line x1="321.54" y1="159.64" x2="330.34" y2="159.64" stroke="#37AD6B" stroke-width="2.1"/>
<line x1="325.94" y1="152.39" x2="325.94" y2="166.9" stroke="#37AD6B" stroke-width="0.85"/>
<polygon points="334.5,160.75 341.76,149.05 327.25,149.05" fill="none" stroke="#37AD6B" stroke-width="1.35" stroke-linejoin="miter"/>
<line x1="330.1" y1="153.73" x2="338.9" y2="153.73" stroke="#37AD6B" stroke-width="2.1"/>
<line x1="334.5" y1="146.48" x2="334.5" y2="160.98" stroke="#37AD6B" stroke-width="0.85"/>
<polygon points="342.2,155.53 349.45,143.83 334.94,143.83" fill="none" stroke="#37AD6B" stroke-width="1.35" stroke-linejoin="miter"/>
<line x1="337.8" y1="148.51" x2="346.6" y2="148.51" stroke="#37AD6B" stroke-width="2.1"/>
<line x1="342.2" y1="141.25" x2="342.2" y2="155.76" stroke="#37AD6B" stroke-width="0.85"/>
<polygon points="349.17,150.86 356.43,139.16 341.92,139.16" fill="none" stroke="#37AD6B" stroke-width="1.35" stroke-linejoin="miter"/>
<line x1="344.77" y1="143.84" x2="353.57" y2="143.84" stroke="#37AD6B" stroke-width="2.1"/>
<line x1="349.17" y1="136.59" x2="349.17" y2="151.1" stroke="#37AD6B" stroke-width="0.85"/>
<polygon points="355.56,146.67 362.81,134.97 348.3,134.97" fill="none" stroke="#37AD6B" stroke-width="1.35" stroke-linejoin="miter"/>
<line x1="351.16" y1="139.65" x2="359.96" y2="139.65" stroke="#37AD6B" stroke-width="2.1"/>
<line x1="355.56" y1="132.39" x2="355.56" y2="146.9" stroke="#37AD6B" stroke-width="0.85"/>
<polygon points="361.44,142.86 368.7,131.16 354.19,131.16" fill="none" stroke="#37AD6B" stroke-width="1.35" stroke-linejoin="miter"/>
<line x1="357.04" y1="135.84" x2="365.84" y2="135.84" stroke="#37AD6B" stroke-width="2.1"/>
<line x1="361.44" y1="128.59" x2="361.44" y2="143.09" stroke="#37AD6B" stroke-width="0.85"/>
<polygon points="366.9,139.39 374.16,127.69 359.65,127.69" fill="none" stroke="#37AD6B" stroke-width="1.35" stroke-linejoin="miter"/>
<line x1="362.5" y1="132.37" x2="371.3" y2="132.37" stroke="#37AD6B" stroke-width="2.1"/>
<line x1="366.9" y1="125.11" x2="366.9" y2="139.62" stroke="#37AD6B" stroke-width="0.85"/>
<polygon points="371.99,136.21 379.25,124.51 364.74,124.51" fill="none" stroke="#37AD6B" stroke-width="1.35" stroke-linejoin="miter"/>
<line x1="367.59" y1="129.19" x2="376.39" y2="129.19" stroke="#37AD6B" stroke-width="2.1"/>
<line x1="371.99" y1="121.93" x2="371.99" y2="136.44" stroke="#37AD6B" stroke-width="0.85"/>
<polygon points="376.76,133.28 384.01,121.58 369.51,121.58" fill="none" stroke="#37AD6B" stroke-width="1.35" stroke-linejoin="miter"/>
<line x1="372.36" y1="126.26" x2="381.16" y2="126.26" stroke="#37AD6B" stroke-width="2.1"/>
<line x1="376.76" y1="119" x2="376.76" y2="133.51" stroke="#37AD6B" stroke-width="0.85"/>
<polygon points="381.24,130.57 388.5,118.87 373.99,118.87" fill="none" stroke="#37AD6B" stroke-width="1.35" stroke-linejoin="miter"/>
<line x1="376.84" y1="123.55" x2="385.64" y2="123.55" stroke="#37AD6B" stroke-width="2.1"/>
<line x1="381.24" y1="116.29" x2="381.24" y2="130.8" stroke="#37AD6B" stroke-width="0.85"/>
<polygon points="385.47,128.05 392.73,116.35 378.22,116.35" fill="none" stroke="#37AD6B" stroke-width="1.35" stroke-linejoin="miter"/>
<line x1="381.07" y1="121.03" x2="389.87" y2="121.03" stroke="#37AD6B" stroke-width="2.1"/>
<line x1="385.47" y1="113.78" x2="385.47" y2="128.29" stroke="#37AD6B" stroke-width="0.85"/>
<polygon points="389.48,125.72 396.73,114.02 382.23,114.02" fill="none" stroke="#37AD6B" stroke-width="1.35" stroke-linejoin="miter"/>
<line x1="385.08" y1="118.7" x2="393.88" y2="118.7" stroke="#37AD6B" stroke-width="2.1"/>
<line x1="389.48" y1="111.44" x2="389.48" y2="125.95" stroke="#37AD6B" stroke-width="0.85"/>
<polygon points="393.28,123.53 400.54,111.83 386.03,111.83" fill="none" stroke="#37AD6B" stroke-width="1.35" stroke-linejoin="miter"/>
<line x1="388.88" y1="116.51" x2="397.68" y2="116.51" stroke="#37AD6B" stroke-width="2.1"/>
<line x1="393.28" y1="109.26" x2="393.28" y2="123.77" stroke="#37AD6B" stroke-width="0.85"/>
<polygon points="396.91,121.49 404.16,109.79 389.65,109.79" fill="none" stroke="#37AD6B" stroke-width="1.35" stroke-linejoin="miter"/>
<line x1="392.51" y1="114.47" x2="401.31" y2="114.47" stroke="#37AD6B" stroke-width="2.1"/>
<line x1="396.91" y1="107.22" x2="396.91" y2="121.73" stroke="#37AD6B" stroke-width="0.85"/>
<polygon points="400.36,119.58 407.61,107.88 393.11,107.88" fill="none" stroke="#37AD6B" stroke-width="1.35" stroke-linejoin="miter"/>
<line x1="395.96" y1="112.56" x2="404.76" y2="112.56" stroke="#37AD6B" stroke-width="2.1"/>
<line x1="400.36" y1="105.31" x2="400.36" y2="119.82" stroke="#37AD6B" stroke-width="0.85"/>
<polygon points="403.66,117.79 410.92,106.09 396.41,106.09" fill="none" stroke="#37AD6B" stroke-width="1.35" stroke-linejoin="miter"/>
<line x1="399.26" y1="110.77" x2="408.06" y2="110.77" stroke="#37AD6B" stroke-width="2.1"/>
<line x1="403.66" y1="103.52" x2="403.66" y2="118.02" stroke="#37AD6B" stroke-width="0.85"/>
<polygon points="405.89,116.6 413.15,104.9 398.64,104.9" fill="none" stroke="#37AD6B" stroke-width="1.35" stroke-linejoin="miter"/>
<line x1="401.49" y1="109.58" x2="410.29" y2="109.58" stroke="#37AD6B" stroke-width="2.1"/>
<line x1="405.89" y1="102.32" x2="405.89" y2="116.83" stroke="#37AD6B" stroke-width="0.85"/>
<polyline points="82.39,341.7 83.36,340.97 84.33,340.25 85.3,339.52 86.27,338.8 87.24,338.08 88.21,337.35 89.18,336.63 90.15,335.91 91.12,335.18 92.09,334.46 93.06,333.73 94.03,333.01 95,332.29 95.97,331.56 96.94,330.84 97.91,330.12 98.88,329.4 99.85,328.68 100.82,327.96 101.79,327.24 102.76,326.52 103.73,325.8 104.7,325.08 105.67,324.36 106.64,323.64 107.6,322.92 108.57,322.2 109.54,321.48 110.51,320.76 111.48,320.04 112.45,319.32 113.42,318.6 114.39,317.88 115.37,317.16 116.35,316.44 117.33,315.71 118.31,314.99 119.29,314.26 120.27,313.54 121.26,312.82 122.24,312.09 123.22,311.37 124.2,310.64 125.18,309.92 126.16,309.2 127.14,308.47 128.12,307.75 129.09,307.04 130.05,306.33 131.02,305.62 131.99,304.91 132.96,304.2 133.92,303.49 134.89,302.78 135.86,302.07 136.83,301.36 137.79,300.65 138.76,299.94 139.73,299.23 140.7,298.52 141.67,297.81 142.65,297.09 143.62,296.38 144.59,295.67 145.57,294.96 146.54,294.25 147.51,293.54 148.48,292.83 149.46,292.12 150.44,291.41 151.42,290.69 152.41,289.98 153.4,289.26 154.38,288.54 155.37,287.83 156.35,287.11 157.34,286.4 158.32,285.68 159.31,284.97 160.3,284.25 161.3,283.53 162.29,282.82 163.28,282.1 164.27,281.38 165.26,280.67 166.25,279.95 167.24,279.24 168.22,278.54 169.19,277.84 170.17,277.14 171.15,276.43 172.13,275.73 173.11,275.03 174.09,274.33 175.07,273.62 176.05,272.92 177.04,272.22 178.02,271.52 179,270.82 179.66,270.35" fill="none" stroke="#B177DE" stroke-width="1.25" stroke-linejoin="round"/>
<polyline points="192.9,260.85 193.87,260.14 194.84,259.44 195.82,258.73 196.79,258.03 197.76,257.32 198.74,256.62 199.71,255.92 200.68,255.21 201.65,254.51 202.63,253.8 203.61,253.08 204.58,252.37 205.56,251.66 206.54,250.94 207.53,250.21 208.53,249.48 209.52,248.75 210.51,248.01 211.52,247.26 212.54,246.5 213.56,245.74 214.58,244.98 215.56,244.23 216.53,243.5 217.49,242.77 218.46,242.03 219.45,241.27 220.45,240.5 221.45,239.73 222.45,238.96 223.09,238.46" fill="none" stroke="#B177DE" stroke-width="1.25" stroke-linejoin="round"/>
<polyline points="235.58,228.67 236.57,227.91 237.55,227.15 238.53,226.39 239.6,225.59 240.67,224.78 241.72,224 242.75,223.25 243.77,222.49 244.78,221.78 245.77,221.08 246.76,220.38 247.85,219.63 248.95,218.88 249.66,218.4" fill="none" stroke="#B177DE" stroke-width="1.25" stroke-linejoin="round"/>
<polyline points="263.38,209.7 264.41,209.02 265.44,208.35 266.44,207.67 267.5,206.94 268.68,206.11 269.83,205.28 270.21,205" fill="none" stroke="#B177DE" stroke-width="1.25" stroke-linejoin="round"/>
<polyline points="283.12,195.74 284.31,194.95 285.48,194.17 285.48,194.17" fill="none" stroke="#B177DE" stroke-width="1.25" stroke-linejoin="round"/>
<polygon points="75.93,339.08 83.37,346.52 75.93,353.96 68.49,346.52" fill="none" stroke="#B177DE" stroke-width="1.35"/>
<line x1="71.53" y1="346.52" x2="80.33" y2="346.52" stroke="#B177DE" stroke-width="1.27"/>
<line x1="75.93" y1="339.08" x2="75.93" y2="353.96" stroke="#B177DE" stroke-width="0.85"/>
<polygon points="186.34,258.16 193.78,265.6 186.34,273.04 178.9,265.6" fill="none" stroke="#B177DE" stroke-width="1.35"/>
<line x1="181.94" y1="265.6" x2="190.74" y2="265.6" stroke="#B177DE" stroke-width="1.49"/>
<line x1="186.34" y1="258.16" x2="186.34" y2="273.04" stroke="#B177DE" stroke-width="0.85"/>
<polygon points="229.3,226.17 236.74,233.61 229.3,241.05 221.86,233.61" fill="none" stroke="#B177DE" stroke-width="1.35"/>
<line x1="224.9" y1="233.61" x2="233.7" y2="233.61" stroke="#B177DE" stroke-width="1.71"/>
<line x1="229.3" y1="226.17" x2="229.3" y2="241.05" stroke="#B177DE" stroke-width="0.85"/>
<polygon points="256.49,206.59 263.93,214.03 256.49,221.47 249.05,214.03" fill="none" stroke="#B177DE" stroke-width="1.35"/>
<line x1="252.09" y1="214.03" x2="260.89" y2="214.03" stroke="#B177DE" stroke-width="1.93"/>
<line x1="256.49" y1="206.59" x2="256.49" y2="221.47" stroke="#B177DE" stroke-width="0.85"/>
<polygon points="276.42,192.8 283.86,200.24 276.42,207.68 268.98,200.24" fill="none" stroke="#B177DE" stroke-width="1.35"/>
<line x1="272.02" y1="200.24" x2="280.82" y2="200.24" stroke="#B177DE" stroke-width="2.1"/>
<line x1="276.42" y1="192.8" x2="276.42" y2="207.68" stroke="#B177DE" stroke-width="0.85"/>
<polygon points="292.16,182.34 299.6,189.78 292.16,197.22 284.72,189.78" fill="none" stroke="#B177DE" stroke-width="1.35"/>
<line x1="287.76" y1="189.78" x2="296.56" y2="189.78" stroke="#B177DE" stroke-width="2.1"/>
<line x1="292.16" y1="182.34" x2="292.16" y2="197.22" stroke="#B177DE" stroke-width="0.85"/>
<polygon points="305.18,173.19 312.62,180.63 305.18,188.07 297.74,180.63" fill="none" stroke="#B177DE" stroke-width="1.35"/>
<line x1="300.78" y1="180.63" x2="309.58" y2="180.63" stroke="#B177DE" stroke-width="2.1"/>
<line x1="305.18" y1="173.19" x2="305.18" y2="188.07" stroke="#B177DE" stroke-width="0.85"/>
<polygon points="316.27,165.88 323.71,173.32 316.27,180.76 308.83,173.32" fill="none" stroke="#B177DE" stroke-width="1.35"/>
<line x1="311.87" y1="173.32" x2="320.67" y2="173.32" stroke="#B177DE" stroke-width="2.1"/>
<line x1="316.27" y1="165.88" x2="316.27" y2="180.76" stroke="#B177DE" stroke-width="0.85"/>
<polygon points="325.94,160.06 333.38,167.5 325.94,174.94 318.5,167.5" fill="none" stroke="#B177DE" stroke-width="1.35"/>
<line x1="321.54" y1="167.5" x2="330.34" y2="167.5" stroke="#B177DE" stroke-width="2.1"/>
<line x1="325.94" y1="160.06" x2="325.94" y2="174.94" stroke="#B177DE" stroke-width="0.85"/>
<polygon points="334.5,155.11 341.94,162.55 334.5,169.99 327.06,162.55" fill="none" stroke="#B177DE" stroke-width="1.35"/>
<line x1="330.1" y1="162.55" x2="338.9" y2="162.55" stroke="#B177DE" stroke-width="2.1"/>
<line x1="334.5" y1="155.11" x2="334.5" y2="169.99" stroke="#B177DE" stroke-width="0.85"/>
<polygon points="342.2,150.85 349.64,158.29 342.2,165.73 334.76,158.29" fill="none" stroke="#B177DE" stroke-width="1.35"/>
<line x1="337.8" y1="158.29" x2="346.6" y2="158.29" stroke="#B177DE" stroke-width="2.1"/>
<line x1="342.2" y1="150.85" x2="342.2" y2="165.73" stroke="#B177DE" stroke-width="0.85"/>
<polygon points="349.17,147.15 356.61,154.59 349.17,162.03 341.73,154.59" fill="none" stroke="#B177DE" stroke-width="1.35"/>
<line x1="344.77" y1="154.59" x2="353.57" y2="154.59" stroke="#B177DE" stroke-width="2.1"/>
<line x1="349.17" y1="147.15" x2="349.17" y2="162.03" stroke="#B177DE" stroke-width="0.85"/>
<polygon points="355.56,143.92 363,151.36 355.56,158.8 348.12,151.36" fill="none" stroke="#B177DE" stroke-width="1.35"/>
<line x1="351.16" y1="151.36" x2="359.96" y2="151.36" stroke="#B177DE" stroke-width="2.1"/>
<line x1="355.56" y1="143.92" x2="355.56" y2="158.8" stroke="#B177DE" stroke-width="0.85"/>
<polygon points="361.44,141.08 368.88,148.52 361.44,155.96 354,148.52" fill="none" stroke="#B177DE" stroke-width="1.35"/>
<line x1="357.04" y1="148.52" x2="365.84" y2="148.52" stroke="#B177DE" stroke-width="2.1"/>
<line x1="361.44" y1="141.08" x2="361.44" y2="155.96" stroke="#B177DE" stroke-width="0.85"/>
<polygon points="366.9,138.58 374.34,146.02 366.9,153.46 359.46,146.02" fill="none" stroke="#B177DE" stroke-width="1.35"/>
<line x1="362.5" y1="146.02" x2="371.3" y2="146.02" stroke="#B177DE" stroke-width="2.1"/>
<line x1="366.9" y1="138.58" x2="366.9" y2="153.46" stroke="#B177DE" stroke-width="0.85"/>
<polygon points="371.99,136.36 379.43,143.8 371.99,151.24 364.55,143.8" fill="none" stroke="#B177DE" stroke-width="1.35"/>
<line x1="367.59" y1="143.8" x2="376.39" y2="143.8" stroke="#B177DE" stroke-width="2.1"/>
<line x1="371.99" y1="136.36" x2="371.99" y2="151.24" stroke="#B177DE" stroke-width="0.85"/>
<polygon points="376.76,134.4 384.2,141.84 376.76,149.28 369.32,141.84" fill="none" stroke="#B177DE" stroke-width="1.35"/>
<line x1="372.36" y1="141.84" x2="381.16" y2="141.84" stroke="#B177DE" stroke-width="2.1"/>
<line x1="376.76" y1="134.4" x2="376.76" y2="149.28" stroke="#B177DE" stroke-width="0.85"/>
<polygon points="381.24,132.66 388.68,140.1 381.24,147.54 373.8,140.1" fill="none" stroke="#B177DE" stroke-width="1.35"/>
<line x1="376.84" y1="140.1" x2="385.64" y2="140.1" stroke="#B177DE" stroke-width="2.1"/>
<line x1="381.24" y1="132.66" x2="381.24" y2="147.54" stroke="#B177DE" stroke-width="0.85"/>
<polygon points="385.47,131.11 392.91,138.55 385.47,145.99 378.03,138.55" fill="none" stroke="#B177DE" stroke-width="1.35"/>
<line x1="381.07" y1="138.55" x2="389.87" y2="138.55" stroke="#B177DE" stroke-width="2.1"/>
<line x1="385.47" y1="131.11" x2="385.47" y2="145.99" stroke="#B177DE" stroke-width="0.85"/>
<polygon points="389.48,129.74 396.92,137.18 389.48,144.62 382.04,137.18" fill="none" stroke="#B177DE" stroke-width="1.35"/>
<line x1="385.08" y1="137.18" x2="393.88" y2="137.18" stroke="#B177DE" stroke-width="2.1"/>
<line x1="389.48" y1="129.74" x2="389.48" y2="144.62" stroke="#B177DE" stroke-width="0.85"/>
<polygon points="393.28,128.53 400.72,135.97 393.28,143.41 385.84,135.97" fill="none" stroke="#B177DE" stroke-width="1.35"/>
<line x1="388.88" y1="135.97" x2="397.68" y2="135.97" stroke="#B177DE" stroke-width="2.1"/>
<line x1="393.28" y1="128.53" x2="393.28" y2="143.41" stroke="#B177DE" stroke-width="0.85"/>
<polygon points="396.91,127.46 404.35,134.9 396.91,142.34 389.47,134.9" fill="none" stroke="#B177DE" stroke-width="1.35"/>
<line x1="392.51" y1="134.9" x2="401.31" y2="134.9" stroke="#B177DE" stroke-width="2.1"/>
<line x1="396.91" y1="127.46" x2="396.91" y2="142.34" stroke="#B177DE" stroke-width="0.85"/>
<polygon points="400.36,126.51 407.8,133.95 400.36,141.39 392.92,133.95" fill="none" stroke="#B177DE" stroke-width="1.35"/>
<line x1="395.96" y1="133.95" x2="404.76" y2="133.95" stroke="#B177DE" stroke-width="2.1"/>
<line x1="400.36" y1="126.51" x2="400.36" y2="141.39" stroke="#B177DE" stroke-width="0.85"/>
<polygon points="403.66,125.69 411.1,133.13 403.66,140.57 396.22,133.13" fill="none" stroke="#B177DE" stroke-width="1.35"/>
<line x1="399.26" y1="133.13" x2="408.06" y2="133.13" stroke="#B177DE" stroke-width="2.1"/>
<line x1="403.66" y1="125.69" x2="403.66" y2="140.57" stroke="#B177DE" stroke-width="0.85"/>
<polygon points="405.89,125.17 413.33,132.61 405.89,140.05 398.45,132.61" fill="none" stroke="#B177DE" stroke-width="1.35"/>
<line x1="401.49" y1="132.61" x2="410.29" y2="132.61" stroke="#B177DE" stroke-width="2.1"/>
<line x1="405.89" y1="125.17" x2="405.89" y2="140.05" stroke="#B177DE" stroke-width="0.85"/>
</g>
<rect x="64.6" y="16.2" width="341.5" height="346.1" fill="none" stroke="#000" stroke-width="3.1"/>
<line x1="68.6" y1="357.2" x2="68.6" y2="361.5" stroke="#000" stroke-width="3"/>
<line x1="143.6" y1="357.2" x2="143.6" y2="361.5" stroke="#000" stroke-width="3"/>
<line x1="218.9" y1="357.2" x2="218.9" y2="361.5" stroke="#000" stroke-width="3"/>
<line x1="294.2" y1="357.2" x2="294.2" y2="361.5" stroke="#000" stroke-width="3"/>
<line x1="369.5" y1="357.2" x2="369.5" y2="361.5" stroke="#000" stroke-width="3"/>
<line x1="114.8" y1="359.9" x2="114.8" y2="361.5" stroke="#000" stroke-width="3"/>
<line x1="190.2" y1="359.9" x2="190.2" y2="361.5" stroke="#000" stroke-width="3"/>
<line x1="265.3" y1="359.9" x2="265.3" y2="361.5" stroke="#000" stroke-width="3"/>
<line x1="340.7" y1="359.9" x2="340.7" y2="361.5" stroke="#000" stroke-width="3"/>
<line x1="65.5" y1="82.5" x2="69.8" y2="82.5" stroke="#000" stroke-width="2.8"/>
<line x1="65.5" y1="242.5" x2="69.8" y2="242.5" stroke="#000" stroke-width="2.8"/>
<line x1="65.5" y1="162.5" x2="67.3" y2="162.5" stroke="#000" stroke-width="2.4"/>
<line x1="65.5" y1="322.5" x2="67.3" y2="322.5" stroke="#000" stroke-width="2.4"/>
<text class="sa" transform="translate(130.51,393.63) scale(0.2979,0.2745)" font-size="100" fill="#000">e</text>
<text class="sa" transform="translate(145.9,382.8) scale(0.2196,0.1629)" font-size="100" fill="#000">2</text>
<text class="sa" transform="translate(280.82,393.63) scale(0.2957,0.2745)" font-size="100" fill="#000">e</text>
<text class="sa" transform="translate(296.32,382.97) scale(0.1922,0.1676)" font-size="100" fill="#000">4</text>
<text class="sa" transform="translate(54.71,87.74) rotate(-90) scale(0.3106,0.2930)" font-size="100" fill="#000">8</text>
<text class="sa" transform="translate(55.6,247.4) rotate(-90) scale(0.3020,0.2985)" font-size="100" fill="#000">4</text>
<g transform="translate(228.4,407.7)"><path d="M8.68,0 L4.75,14.53 C3.88,18.17 2.58,22.32 3.66,24.65 C5.19,27.51 9.11,25.43 12.06,19.72" fill="none" stroke="#000" stroke-width="2.7" stroke-linejoin="round"/>
<line x1="0" y1="8.87" x2="13.6" y2="8.87" stroke="#000" stroke-width="1.45"/></g>
<text class="se" transform="translate(32.18,213.26) rotate(-90) scale(0.5596,0.4597)" font-size="100" fill="#000" font-style="italic" stroke="#000" stroke-width="0.3" vector-effect="non-scaling-stroke" stroke-linejoin="round">S</text>
<text class="se" transform="translate(14.47,26.19) scale(0.3815,0.3622)" font-size="100" fill="#000" font-weight="bold">(a)</text>
<text class="se" transform="translate(424.37,26.19) scale(0.3816,0.3622)" font-size="100" fill="#000" font-weight="bold">(b)</text>
<rect x="71" y="22.2" width="224.2" height="129" fill="#fff" stroke="#000" stroke-width="1.8"/>
<line x1="75.6" y1="40.4" x2="118.2" y2="40.4" stroke="#515151" stroke-width="1.2"/>
<rect x="89.9" y="33.7" width="13.4" height="13.4" fill="#fff" stroke="#515151" stroke-width="1.2"/>
<text class="se" transform="translate(127.42,44.71) scale(0.2208,0.2235)" font-size="100" fill="#000" font-style="italic" stroke="#000" stroke-width="0.25" vector-effect="non-scaling-stroke" stroke-linejoin="round">p</text>
<text class="se" transform="translate(144.38,45.87) scale(0.3234,0.2320)" font-size="100" fill="#000">=</text>
<text class="se" transform="translate(168.47,44.27) scale(0.2322,0.2162)" font-size="100" fill="#000" stroke="#000" stroke-width="0.25" vector-effect="non-scaling-stroke" stroke-linejoin="round">0.15795</text>
<line x1="75.6" y1="63.8" x2="118.2" y2="63.8" stroke="#F14040" stroke-width="1.2"/>
<circle cx="96.6" cy="63.8" r="7.3" fill="#fff" stroke="#F14040" stroke-width="1.2"/>
<text class="se" transform="translate(127.42,67.51) scale(0.2208,0.2235)" font-size="100" fill="#000" font-style="italic" stroke="#000" stroke-width="0.25" vector-effect="non-scaling-stroke" stroke-linejoin="round">p</text>
<text class="se" transform="translate(144.38,68.67) scale(0.3234,0.2320)" font-size="100" fill="#000">=</text>
<text class="se" transform="translate(168.47,67.07) scale(0.2322,0.2162)" font-size="100" fill="#000" stroke="#000" stroke-width="0.25" vector-effect="non-scaling-stroke" stroke-linejoin="round">0.15895</text>
<line x1="75.6" y1="87" x2="118.2" y2="87" stroke="#1A6FDF" stroke-width="1.2"/>
<polygon points="96.6,77.23 106.55,94.92 86.65,94.92" fill="#fff" stroke="#1A6FDF" stroke-width="1.2" stroke-linejoin="miter"/>
<text class="se" transform="translate(127.42,90.31) scale(0.2208,0.2235)" font-size="100" fill="#000" font-style="italic" stroke="#000" stroke-width="0.25" vector-effect="non-scaling-stroke" stroke-linejoin="round">p</text>
<text class="se" transform="translate(144.38,91.47) scale(0.3234,0.2320)" font-size="100" fill="#000">=</text>
<text class="se" transform="translate(170.05,90.31) scale(0.2245,0.2235)" font-size="100" fill="#000" font-style="italic" stroke="#000" stroke-width="0.25" vector-effect="non-scaling-stroke" stroke-linejoin="round">p</text>
<text class="se" transform="translate(181.21,93.23) scale(0.1625,0.1708)" font-size="100" fill="#000" font-style="italic" stroke="#000" stroke-width="0.2" vector-effect="non-scaling-stroke" stroke-linejoin="round">c</text>
<text class="se" transform="translate(194.18,91.47) scale(0.3234,0.2320)" font-size="100" fill="#000">=</text>
<text class="se" transform="translate(218.28,89.87) scale(0.2303,0.2162)" font-size="100" fill="#000" stroke="#000" stroke-width="0.25" vector-effect="non-scaling-stroke" stroke-linejoin="round">0.15995</text>
<line x1="75.6" y1="110.6" x2="118.2" y2="110.6" stroke="#37AD6B" stroke-width="1.2"/>
<polygon points="96.6,121.48 106.4,105.68 86.8,105.68" fill="#fff" stroke="#37AD6B" stroke-width="1.2" stroke-linejoin="miter"/>
<text class="se" transform="translate(127.42,113.91) scale(0.2208,0.2235)" font-size="100" fill="#000" font-style="italic" stroke="#000" stroke-width="0.25" vector-effect="non-scaling-stroke" stroke-linejoin="round">p</text>
<text class="se" transform="translate(144.38,115.07) scale(0.3234,0.2320)" font-size="100" fill="#000">=</text>
<text class="se" transform="translate(168.47,113.47) scale(0.2322,0.2162)" font-size="100" fill="#000" stroke="#000" stroke-width="0.25" vector-effect="non-scaling-stroke" stroke-linejoin="round">0.16095</text>
<line x1="75.6" y1="133.8" x2="118.2" y2="133.8" stroke="#B177DE" stroke-width="1.2"/>
<polygon points="96.6,124 106.4,133.8 96.6,143.6 86.8,133.8" fill="#fff" stroke="#B177DE" stroke-width="1.2"/>
<text class="se" transform="translate(127.42,138.51) scale(0.2208,0.2235)" font-size="100" fill="#000" font-style="italic" stroke="#000" stroke-width="0.25" vector-effect="non-scaling-stroke" stroke-linejoin="round">p</text>
<text class="se" transform="translate(144.38,139.67) scale(0.3234,0.2320)" font-size="100" fill="#000">=</text>
<text class="se" transform="translate(168.47,138.07) scale(0.2322,0.2162)" font-size="100" fill="#000" stroke="#000" stroke-width="0.25" vector-effect="non-scaling-stroke" stroke-linejoin="round">0.16195</text>
<g clip-path="url(#cb)">
<rect x="480.65" y="237.65" width="8.7" height="8.7" fill="none" stroke="#000" stroke-width="1.25"/>
<rect x="517.25" y="293.85" width="8.7" height="8.7" fill="none" stroke="#000" stroke-width="1.25"/>
<rect x="539.15" y="316.75" width="8.7" height="8.7" fill="none" stroke="#000" stroke-width="1.25"/>
<rect x="553.95" y="328.55" width="8.7" height="8.7" fill="none" stroke="#000" stroke-width="1.25"/>
<rect x="564.95" y="337.65" width="8.7" height="8.7" fill="none" stroke="#000" stroke-width="1.25"/>
<rect x="575.05" y="341.95" width="8.7" height="8.7" fill="none" stroke="#000" stroke-width="1.25"/>
<rect x="590.15" y="346.15" width="8.7" height="8.7" fill="none" stroke="#000" stroke-width="1.25"/>
<rect x="601.95" y="348.55" width="8.7" height="8.7" fill="none" stroke="#000" stroke-width="1.25"/>
<rect x="612.05" y="349.95" width="8.7" height="8.7" fill="none" stroke="#000" stroke-width="1.25"/>
<rect x="623.85" y="350.35" width="8.7" height="8.7" fill="none" stroke="#000" stroke-width="1.25"/>
<rect x="633.15" y="348.75" width="8.7" height="8.7" fill="none" stroke="#000" stroke-width="1.25"/>
<rect x="644.05" y="345.95" width="8.7" height="8.7" fill="none" stroke="#000" stroke-width="1.25"/>
<rect x="653.35" y="342.85" width="8.7" height="8.7" fill="none" stroke="#000" stroke-width="1.25"/>
<rect x="664.35" y="337.75" width="8.7" height="8.7" fill="none" stroke="#000" stroke-width="1.25"/>
<rect x="671.85" y="331.85" width="8.7" height="8.7" fill="none" stroke="#000" stroke-width="1.25"/>
<rect x="680.15" y="323.15" width="8.7" height="8.7" fill="none" stroke="#000" stroke-width="1.25"/>
<rect x="688.65" y="310.65" width="8.7" height="8.7" fill="none" stroke="#000" stroke-width="1.25"/>
<rect x="694.65" y="301.15" width="8.7" height="8.7" fill="none" stroke="#000" stroke-width="1.25"/>
<rect x="699.95" y="291.55" width="8.7" height="8.7" fill="none" stroke="#000" stroke-width="1.25"/>
<rect x="705.85" y="281.65" width="8.7" height="8.7" fill="none" stroke="#000" stroke-width="1.25"/>
<rect x="710.35" y="272.95" width="8.7" height="8.7" fill="none" stroke="#000" stroke-width="1.25"/>
<rect x="716.25" y="265.45" width="8.7" height="8.7" fill="none" stroke="#000" stroke-width="1.25"/>
<rect x="724.35" y="259.95" width="8.7" height="8.7" fill="none" stroke="#000" stroke-width="1.25"/>
<rect x="730.95" y="252.45" width="8.7" height="8.7" fill="none" stroke="#000" stroke-width="1.25"/>
<rect x="739.65" y="249.25" width="8.7" height="8.7" fill="none" stroke="#000" stroke-width="1.25"/>
<rect x="748.75" y="250.05" width="8.7" height="8.7" fill="none" stroke="#000" stroke-width="1.25"/>
<rect x="753.95" y="257.45" width="8.7" height="8.7" fill="none" stroke="#000" stroke-width="1.25"/>
<rect x="758.45" y="266.05" width="8.7" height="8.7" fill="none" stroke="#000" stroke-width="1.25"/>
<rect x="760.75" y="271.95" width="8.7" height="8.7" fill="none" stroke="#000" stroke-width="1.25"/>
<circle cx="499.7" cy="240.9" r="5.1" fill="none" stroke="#FF0000" stroke-width="1.25"/>
<circle cx="536.4" cy="295.8" r="5.1" fill="none" stroke="#FF0000" stroke-width="1.25"/>
<circle cx="557.6" cy="317.7" r="5.1" fill="none" stroke="#FF0000" stroke-width="1.25"/>
<circle cx="573.8" cy="330" r="5.1" fill="none" stroke="#FF0000" stroke-width="1.25"/>
<circle cx="584.5" cy="338.8" r="5.1" fill="none" stroke="#FF0000" stroke-width="1.25"/>
<circle cx="596" cy="342.2" r="5.1" fill="none" stroke="#FF0000" stroke-width="1.25"/>
<circle cx="610.5" cy="347.8" r="5.1" fill="none" stroke="#FF0000" stroke-width="1.25"/>
<circle cx="622.5" cy="349.6" r="5.1" fill="none" stroke="#FF0000" stroke-width="1.25"/>
<circle cx="635.8" cy="345.8" r="5.1" fill="none" stroke="#FF0000" stroke-width="1.25"/>
<circle cx="647.6" cy="343" r="5.1" fill="none" stroke="#FF0000" stroke-width="1.25"/>
<circle cx="657" cy="338.5" r="5.1" fill="none" stroke="#FF0000" stroke-width="1.25"/>
<circle cx="665.3" cy="332.5" r="5.1" fill="none" stroke="#FF0000" stroke-width="1.25"/>
<circle cx="676.2" cy="326.5" r="5.1" fill="none" stroke="#FF0000" stroke-width="1.25"/>
<circle cx="685" cy="318.5" r="5.1" fill="none" stroke="#FF0000" stroke-width="1.25"/>
<circle cx="692" cy="310.9" r="5.1" fill="none" stroke="#FF0000" stroke-width="1.25"/>
<circle cx="699" cy="302.3" r="5.1" fill="none" stroke="#FF0000" stroke-width="1.25"/>
<circle cx="705.5" cy="293.28" r="5.1" fill="none" stroke="#FF0000" stroke-width="1.25"/>
<circle cx="711.5" cy="284.36" r="5.1" fill="none" stroke="#FF0000" stroke-width="1.25"/>
<circle cx="717" cy="275.97" r="5.1" fill="none" stroke="#FF0000" stroke-width="1.25"/>
<circle cx="722" cy="268.08" r="5.1" fill="none" stroke="#FF0000" stroke-width="1.25"/>
<circle cx="727" cy="259.57" r="5.1" fill="none" stroke="#FF0000" stroke-width="1.25"/>
<circle cx="731.5" cy="251.12" r="5.1" fill="none" stroke="#FF0000" stroke-width="1.25"/>
<circle cx="736" cy="241.78" r="5.1" fill="none" stroke="#FF0000" stroke-width="1.25"/>
<circle cx="740" cy="232.5" r="5.1" fill="none" stroke="#FF0000" stroke-width="1.25"/>
<circle cx="744" cy="221.57" r="5.1" fill="none" stroke="#FF0000" stroke-width="1.25"/>
<circle cx="748.5" cy="218" r="5.1" fill="none" stroke="#FF0000" stroke-width="1.25"/>
<circle cx="754.9" cy="210.8" r="5.1" fill="none" stroke="#FF0000" stroke-width="1.25"/>
<circle cx="763.9" cy="206.2" r="5.1" fill="none" stroke="#FF0000" stroke-width="1.25"/>
<circle cx="771.1" cy="214.4" r="5.1" fill="none" stroke="#FF0000" stroke-width="1.25"/>
<circle cx="777.6" cy="220.5" r="5.1" fill="none" stroke="#FF0000" stroke-width="1.25"/>
<circle cx="780" cy="225.9" r="5.1" fill="none" stroke="#FF0000" stroke-width="1.25"/>
<polygon points="511.5,234.18 518.05,245.83 504.95,245.83" fill="none" stroke="#0000FF" stroke-width="1.2" stroke-linejoin="miter"/>
<polygon points="548.2,286.78 554.75,298.43 541.65,298.43" fill="none" stroke="#0000FF" stroke-width="1.2" stroke-linejoin="miter"/>
<polygon points="571,310.08 577.55,321.73 564.45,321.73" fill="none" stroke="#0000FF" stroke-width="1.2" stroke-linejoin="miter"/>
<polygon points="586.1,321.08 592.65,332.73 579.55,332.73" fill="none" stroke="#0000FF" stroke-width="1.2" stroke-linejoin="miter"/>
<polygon points="597.1,327.78 603.65,339.43 590.55,339.43" fill="none" stroke="#0000FF" stroke-width="1.2" stroke-linejoin="miter"/>
<polygon points="614.8,333.68 621.35,345.33 608.25,345.33" fill="none" stroke="#0000FF" stroke-width="1.2" stroke-linejoin="miter"/>
<polygon points="628.2,335.38 634.75,347.03 621.65,347.03" fill="none" stroke="#0000FF" stroke-width="1.2" stroke-linejoin="miter"/>
<polygon points="643.7,332.88 650.25,344.53 637.15,344.53" fill="none" stroke="#0000FF" stroke-width="1.2" stroke-linejoin="miter"/>
<polygon points="655.2,330.68 661.75,342.33 648.65,342.33" fill="none" stroke="#0000FF" stroke-width="1.2" stroke-linejoin="miter"/>
<polygon points="667.8,324.78 674.35,336.43 661.25,336.43" fill="none" stroke="#0000FF" stroke-width="1.2" stroke-linejoin="miter"/>
<polygon points="677.9,317.78 684.45,329.43 671.35,329.43" fill="none" stroke="#0000FF" stroke-width="1.2" stroke-linejoin="miter"/>
<polygon points="684,310.75 690.55,322.39 677.45,322.39" fill="none" stroke="#0000FF" stroke-width="1.2" stroke-linejoin="miter"/>
<polygon points="691.5,302.42 698.05,314.07 684.95,314.07" fill="none" stroke="#0000FF" stroke-width="1.2" stroke-linejoin="miter"/>
<polygon points="698.5,293.58 705.05,305.23 691.95,305.23" fill="none" stroke="#0000FF" stroke-width="1.2" stroke-linejoin="miter"/>
<polygon points="705,284.37 711.55,296.02 698.45,296.02" fill="none" stroke="#0000FF" stroke-width="1.2" stroke-linejoin="miter"/>
<polygon points="711,275.37 717.55,287.01 704.45,287.01" fill="none" stroke="#0000FF" stroke-width="1.2" stroke-linejoin="miter"/>
<polygon points="716.5,266.92 723.05,278.57 709.95,278.57" fill="none" stroke="#0000FF" stroke-width="1.2" stroke-linejoin="miter"/>
<polygon points="721.5,258.89 728.05,270.54 714.95,270.54" fill="none" stroke="#0000FF" stroke-width="1.2" stroke-linejoin="miter"/>
<polygon points="726.5,250.12 733.05,261.76 719.95,261.76" fill="none" stroke="#0000FF" stroke-width="1.2" stroke-linejoin="miter"/>
<polygon points="731,241.39 737.55,253.04 724.45,253.04" fill="none" stroke="#0000FF" stroke-width="1.2" stroke-linejoin="miter"/>
<polygon points="735.5,231.72 742.05,243.36 728.95,243.36" fill="none" stroke="#0000FF" stroke-width="1.2" stroke-linejoin="miter"/>
<polygon points="740,220.57 746.55,232.21 733.45,232.21" fill="none" stroke="#0000FF" stroke-width="1.2" stroke-linejoin="miter"/>
<polygon points="744,208.74 750.55,220.38 737.45,220.38" fill="none" stroke="#0000FF" stroke-width="1.2" stroke-linejoin="miter"/>
<polygon points="748,196.1 754.55,207.75 741.45,207.75" fill="none" stroke="#0000FF" stroke-width="1.2" stroke-linejoin="miter"/>
<polygon points="752,182.84 758.55,194.49 745.45,194.49" fill="none" stroke="#0000FF" stroke-width="1.2" stroke-linejoin="miter"/>
<polygon points="755.5,170.96 762.05,182.61 748.95,182.61" fill="none" stroke="#0000FF" stroke-width="1.2" stroke-linejoin="miter"/>
<polygon points="759,169.28 765.55,180.93 752.45,180.93" fill="none" stroke="#0000FF" stroke-width="1.2" stroke-linejoin="miter"/>
<polygon points="762,169.28 768.55,180.93 755.45,180.93" fill="none" stroke="#0000FF" stroke-width="1.2" stroke-linejoin="miter"/>
<polygon points="765.7,160.98 772.25,172.63 759.15,172.63" fill="none" stroke="#0000FF" stroke-width="1.2" stroke-linejoin="miter"/>
<polygon points="774,153.78 780.55,165.43 767.45,165.43" fill="none" stroke="#0000FF" stroke-width="1.2" stroke-linejoin="miter"/>
<polygon points="784.4,156.28 790.95,167.93 777.85,167.93" fill="none" stroke="#0000FF" stroke-width="1.2" stroke-linejoin="miter"/>
<polygon points="790.8,165.68 797.35,177.33 784.25,177.33" fill="none" stroke="#0000FF" stroke-width="1.2" stroke-linejoin="miter"/>
<polygon points="793.4,166.28 799.95,177.93 786.85,177.93" fill="none" stroke="#0000FF" stroke-width="1.2" stroke-linejoin="miter"/>
<polyline points="485,242.5 486.39,244.75 488.23,247.75 490.43,251.32 492.88,255.28 495.46,259.46 498.08,263.68 500.63,267.75 503,271.5 505.22,275.03 507.41,278.55 509.57,282.05 511.75,285.53 513.96,288.97 516.22,292.37 518.56,295.72 521,299 523.61,302.29 526.38,305.62 529.26,308.93 532.19,312.19 535.09,315.32 537.9,318.29 540.56,321.03 543,323.5 545.22,325.66 547.27,327.55 549.18,329.22 551,330.72 552.76,332.1 554.48,333.4 556.22,334.69 558,336 559.8,337.32 561.57,338.58 563.32,339.78 565.06,340.93 566.79,342.03 568.52,343.07 570.26,344.06 572,345 573.75,345.88 575.5,346.7 577.25,347.46 579,348.18 580.75,348.84 582.5,349.46 584.25,350.05 586,350.6 587.76,351.11 589.55,351.58 591.34,351.99 593.12,352.38 594.9,352.72 596.64,353.04 598.35,353.33 600,353.6 601.6,353.85 603.14,354.06 604.65,354.24 606.12,354.4 607.59,354.53 609.05,354.64 610.51,354.73 612,354.8 613.47,354.87 614.91,354.94 616.32,355 617.75,355.03 619.21,355.02 620.72,354.96 622.31,354.82 624,354.6 625.82,354.3 627.75,353.93 629.77,353.5 631.84,353.01 633.93,352.47 636,351.86 638.04,351.21 640,350.5 641.9,349.72 643.79,348.84 645.65,347.9 647.49,346.91 649.3,345.9 651.1,344.88 652.86,343.87 654.6,342.9 656.29,341.99 657.92,341.14 659.5,340.3 661.08,339.46 662.65,338.57 664.25,337.62 665.89,336.58 667.6,335.4 669.38,334.11 671.2,332.73 673.07,331.28 674.96,329.74 676.87,328.14 678.78,326.46 680.7,324.71 682.6,322.9 684.5,321.02 686.41,319.07 688.32,317.05 690.24,314.96 692.16,312.8 694.08,310.57 696,308.27 697.9,305.9 699.8,303.45 701.69,300.91 703.57,298.3 705.46,295.62 707.34,292.88 709.22,290.09 711.11,287.26 713,284.4 714.92,281.49 716.86,278.51 718.82,275.48 720.78,272.4 722.72,269.29 724.61,266.17 726.44,263.03 728.2,259.9 729.89,256.77 731.53,253.63 733.13,250.48 734.68,247.31 736.18,244.12 737.63,240.9 739.04,237.67 740.4,234.4 741.73,230.98 743.05,227.35 744.33,223.63 745.56,219.93 746.75,216.4 747.77,212.94 748.8,210.04 749.54,207.27 750.26,205.3 750.85,203.81 751.19,202.38 751.61,201.51 751.66,200.13 751.97,199.3 752.29,198.37 752.91,197.71 753.25,196.24 753.85,195.24 754.23,193.74 754.81,192.64 755.42,191.63 756.06,190.72 756.58,189.66 757.05,188.6 757.61,187.82 757.94,186.67 758.3,185.64 758.89,185.12 759.39,184.49 760.12,184.35 760.55,183.64 760.95,182.89 761.81,183.12 761.77,181.6 762.44,181.52 762.72,180.72 763.65,181.25 763.77,180.17 764.11,179.54 764.87,179.73 765.57,179.83 765.76,178.91 766.47,179.02 766.67,178.15 767.96,179.48 768.31,178.95 768.41,177.96 769.3,178.6 769.89,178.66 770.68,179.14 770.67,178.06 771.69,179.07 772.27,179.24 772.84,179.42 773.06,178.97 774.15,180.29 774.72,180.65 775.58,181.64 775.7,181.2 776.9,182.96 776.9,182.37 778.21,184.43 778.55,184.59 779.38,185.76 779.2,184.94 780.23,186.58 780.37,186.48 781.12,187.64 782.32,189.72 782.24,189.32 783.19,191.02 783.92,192.33 784.02,192.48 784.81,194.1 784.57,193.72 785.48,195.71 785.4,195.71 785.54,196.17 786.58,198.37 786.62,198.54" fill="none" stroke="#000" stroke-width="3.4" stroke-linejoin="round" stroke-linecap="round"/>
<polyline points="499.7,241.5 501.11,243.67 503,246.58 505.24,250.04 507.72,253.88 510.36,257.92 513.02,261.98 515.6,265.9 518,269.5 520.24,272.86 522.44,276.19 524.62,279.48 526.8,282.75 529.01,285.98 531.26,289.19 533.58,292.36 536,295.5 538.56,298.68 541.27,301.92 544.07,305.17 546.91,308.38 549.72,311.47 552.46,314.39 555.08,317.09 557.5,319.5 559.73,321.6 561.83,323.43 563.82,325.03 565.72,326.47 567.56,327.78 569.37,329.03 571.18,330.25 573,331.5 574.82,332.75 576.61,333.94 578.36,335.07 580.09,336.15 581.82,337.18 583.54,338.16 585.26,339.1 587,340 588.75,340.85 590.5,341.66 592.25,342.41 594,343.12 595.75,343.8 597.5,344.43 599.25,345.03 601,345.6 602.76,346.14 604.55,346.64 606.34,347.11 608.12,347.54 609.9,347.94 611.64,348.3 613.35,348.62 615,348.9 616.59,349.15 618.12,349.36 619.6,349.54 621.06,349.68 622.51,349.78 623.98,349.84 625.47,349.84 627,349.8 628.57,349.71 630.17,349.59 631.78,349.43 633.4,349.22 635.04,348.96 636.68,348.64 638.34,348.25 640,347.8 641.68,347.27 643.37,346.66 645.08,345.98 646.8,345.24 648.52,344.47 650.23,343.66 651.92,342.83 653.6,342 655.24,341.18 656.85,340.36 658.43,339.53 660.01,338.67 661.6,337.75 663.22,336.77 664.88,335.69 666.6,334.5 668.38,333.21 670.2,331.83 672.07,330.38 673.96,328.84 675.87,327.24 677.78,325.56 679.7,323.81 681.6,322 683.5,320.12 685.41,318.17 687.32,316.15 689.24,314.06 691.16,311.9 693.08,309.67 695,307.37 696.9,305 698.8,302.55 700.69,300.01 702.57,297.4 704.46,294.72 706.34,291.98 708.22,289.19 710.11,286.36 712,283.5 713.92,280.59 715.86,277.61 717.82,274.58 719.78,271.5 721.72,268.39 723.61,265.27 725.44,262.13 727.2,259 728.89,255.87 730.53,252.73 732.13,249.58 733.68,246.41 735.18,243.22 736.63,240 738.04,236.77 739.4,233.5 740.69,230.22 741.92,226.93 743.08,223.62 744.2,220.28 745.3,216.91 746.38,213.5 747.48,210.03 748.6,206.5 749.75,202.85 750.93,199.05 752.1,195.16 753.28,191.25 754.42,187.37 755.54,183.58 756.6,179.94 757.6,176.5 758.52,173.27 759.36,170.18 760.15,167.22 760.89,164.34 761.62,161.55 762.43,158.94 763.16,156.16 763.97,153.45 764.79,150.66 765.85,148.37 766.84,145.94 767.58,143.03 768.6,140.73 769.51,138.26 770.31,135.64 771.38,133.67 772.55,131.9 773.24,129.15 774.47,127.5 775.07,124.69 776.08,122.8 777.24,121.42 777.91,119.29 778.47,117.23 779.2,115.84 780.12,115.1 780.43,113.36 781.1,112.54 781.96,112.23 782.26,110.91 783.54,111.57 784.3,111.2 784.19,109.13 784.99,109 785.51,108.41 787.07,109.94 787.59,109.47 788.1,108.98 789.08,109.45 788.96,107.72 790.18,108.59 790.7,108.03 792.05,109.08 792.56,108.5 793.43,108.73 794.98,110.48 795.23,109.79 796.14,110.69 797.08,111.9 798.32,113.96 798.52,114.13 799.57,116.13 800.88,118.73 800.93,118.89 801.77,120.58 801.76,120.52" fill="none" stroke="#FF0000" stroke-width="3.4" stroke-linejoin="round" stroke-linecap="round"/>
<polyline points="511.5,241.5 512.93,243.6 514.84,246.4 517.1,249.74 519.62,253.44 522.29,257.33 524.98,261.26 527.58,265.04 530,268.5 532.25,271.73 534.44,274.91 536.61,278.07 538.78,281.19 540.98,284.29 543.23,287.37 545.56,290.44 548,293.5 550.6,296.63 553.37,299.86 556.24,303.12 559.16,306.34 562.05,309.46 564.86,312.4 567.53,315.1 570,317.5 572.27,319.56 574.4,321.35 576.42,322.9 578.34,324.28 580.19,325.53 581.99,326.7 583.75,327.84 585.5,329 587.2,330.15 588.82,331.22 590.39,332.22 591.91,333.16 593.41,334.05 594.91,334.9 596.43,335.71 598,336.5 599.61,337.26 601.26,337.97 602.93,338.65 604.59,339.28 606.25,339.87 607.88,340.43 609.47,340.93 611,341.4 612.47,341.82 613.89,342.18 615.27,342.49 616.62,342.77 617.96,343.01 619.3,343.23 620.64,343.42 622,343.6 623.38,343.77 624.77,343.91 626.17,344.04 627.56,344.14 628.95,344.21 630.32,344.24 631.67,344.24 633,344.2 634.3,344.12 635.57,343.99 636.82,343.83 638.06,343.64 639.29,343.41 640.52,343.16 641.76,342.89 643,342.6 644.23,342.3 645.44,341.99 646.64,341.65 647.85,341.29 649.07,340.9 650.33,340.46 651.64,339.96 653,339.4 654.42,338.8 655.87,338.19 657.36,337.54 658.89,336.83 660.45,336.05 662.06,335.18 663.71,334.21 665.4,333.1 667.15,331.86 668.96,330.52 670.82,329.06 672.72,327.52 674.64,325.89 676.57,324.19 678.49,322.42 680.4,320.6 682.3,318.72 684.21,316.77 686.12,314.75 688.04,312.66 689.96,310.5 691.88,308.27 693.8,305.97 695.7,303.6 697.6,301.15 699.49,298.61 701.37,296 703.26,293.32 705.14,290.58 707.02,287.79 708.91,284.96 710.8,282.1 712.72,279.19 714.66,276.21 716.62,273.18 718.58,270.1 720.52,266.99 722.41,263.87 724.24,260.73 726,257.6 727.69,254.47 729.33,251.33 730.93,248.18 732.48,245.01 733.98,241.82 735.43,238.6 736.84,235.37 738.2,232.1 739.49,228.82 740.72,225.53 741.88,222.22 743,218.88 744.1,215.51 745.18,212.1 746.28,208.63 747.4,205.1 748.53,201.59 749.64,198.14 750.74,194.69 751.84,191.17 752.95,187.51 754.08,183.66 755.22,179.55 756.4,175.1 757.61,170.26 758.84,165.06 760.1,159.59 761.37,153.92 762.65,148.15 763.94,142.35 765.22,136.6 766.5,131 767.8,125.39 769.13,119.64 770.48,113.82 771.83,108.04 773.17,102.4 774.43,96.91 775.67,91.79 776.71,86.82 777.88,82.62 778.97,78.65 779.68,74.27 780.79,71.04 781.65,67.57 782.43,64.22 783.22,61.13 783.98,58.16 784.94,55.89 785.78,53.7 785.9,50.37 786.57,48.38 787.75,47.58 788.34,45.74 788.87,43.86 789.47,42.14 790.34,41.01 790.86,39.34 791,37 792.07,36.65 792.58,35.26 793.48,34.74 793.81,33.17 794.92,33.24 795.43,32.17 796.12,31.52 797.22,31.79 797.78,31.08 797.99,29.74 799.28,30.68 799.65,29.9 799.9,28.99 800.28,28.52 800.86,28.63 801.79,29.58 801.38,27.91 802.01,28.42 802.73,29.1 802.61,28.08 803.19,28.39 804.07,29.18 804.44,28.87 805.16,29.24 805.84,29.54 807.44,31.74 807.8,31.6 808.44,32.17 809.37,33.54 809.76,34.09 810.37,35.32 811.27,37.29 811.88,38.82 812.92,41.24 812.55,40.84 812.98,42 813.58,43.37" fill="none" stroke="#0000FF" stroke-width="3.4" stroke-linejoin="round" stroke-linecap="round"/>
</g>
<rect x="476.6" y="16.2" width="350.85" height="346.05" fill="none" stroke="#000" stroke-width="3.15"/>
<line x1="519.9" y1="358" x2="519.9" y2="361.5" stroke="#000" stroke-width="3"/>
<line x1="586.6" y1="358" x2="586.6" y2="361.5" stroke="#000" stroke-width="3"/>
<line x1="653.2" y1="358" x2="653.2" y2="361.5" stroke="#000" stroke-width="3"/>
<line x1="720" y1="358" x2="720" y2="361.5" stroke="#000" stroke-width="3"/>
<line x1="786.7" y1="358" x2="786.7" y2="361.5" stroke="#000" stroke-width="3"/>
<line x1="480" y1="360.45" x2="825" y2="360.45" stroke="#000" stroke-width="0.8" stroke-dasharray="2.0 1.4" opacity="0.5"/>
<line x1="477.5" y1="128.4" x2="481.1" y2="128.4" stroke="#000" stroke-width="2.7"/>
<line x1="477.5" y1="332" x2="481.1" y2="332" stroke="#000" stroke-width="2.7"/>
<line x1="477.5" y1="60.5" x2="479" y2="60.5" stroke="#000" stroke-width="1.6"/>
<line x1="477.5" y1="196.3" x2="479" y2="196.3" stroke="#000" stroke-width="1.6"/>
<line x1="477.5" y1="264.2" x2="479" y2="264.2" stroke="#000" stroke-width="1.6"/>
<text class="sa" transform="translate(570.43,393.13) scale(0.2936,0.2727)" font-size="100" fill="#000">e</text>
<text class="sa" transform="translate(586.21,381.76) scale(0.1976,0.1618)" font-size="100" fill="#000">-4</text>
<text class="sa" transform="translate(703.17,393.13) scale(0.3064,0.2727)" font-size="100" fill="#000">e</text>
<text class="sa" transform="translate(719.67,381.6) scale(0.1825,0.1571)" font-size="100" fill="#000">-2</text>
<text class="sa" transform="translate(468.9,133.2) rotate(-90) scale(0.3000,0.2943)" font-size="100" fill="#000">2</text>
<text class="sa" transform="translate(468.41,337.18) rotate(-90) scale(0.2688,0.2915)" font-size="100" fill="#000">0</text>
<text class="se" transform="translate(440.07,276.17) rotate(-90) scale(0.5702,0.4672)" font-size="100" fill="#000" font-style="italic" stroke="#000" stroke-width="0.3" vector-effect="non-scaling-stroke" stroke-linejoin="round">S</text>
<line x1="428.6" y1="209.6" x2="428.6" y2="236.5" stroke="#000" stroke-width="1.8"/>
<text class="se" transform="translate(440.54,196.44) rotate(-90) scale(0.4133,0.4592)" font-size="100" fill="#000" font-style="italic" stroke="#000" stroke-width="0.5" vector-effect="non-scaling-stroke" stroke-linejoin="round">δ</text>
<text class="se" transform="translate(438.8,170.05) rotate(-90) scale(0.4250,0.3986)" font-size="100" fill="#000" stroke="#000" stroke-width="0.55" vector-effect="non-scaling-stroke" stroke-linejoin="round">l</text>
<text class="se" transform="translate(438.8,156.63) rotate(-90) scale(0.4652,0.3128)" font-size="100" fill="#000" stroke="#000" stroke-width="0.55" vector-effect="non-scaling-stroke" stroke-linejoin="round">n</text>
<g transform="translate(413.2,126.5) rotate(-90)"><path d="M8.75,0 L4.79,13.8 C3.91,17.25 2.59,21.2 3.69,23.42 C5.23,26.13 9.19,24.16 12.16,18.73" fill="none" stroke="#000" stroke-width="2.7" stroke-linejoin="round"/>
<line x1="0" y1="8.45" x2="13.7" y2="8.45" stroke="#000" stroke-width="1.45"/></g>
<line x1="586.7" y1="400.2" x2="586.7" y2="445" stroke="#000" stroke-width="1.5"/>
<text class="se" transform="translate(594.3,432.57) scale(0.4298,0.4206)" font-size="100" fill="#000" font-style="italic" stroke="#000" stroke-width="0.3" vector-effect="non-scaling-stroke" stroke-linejoin="round">g</text>
<line x1="620.4" y1="400.2" x2="620.4" y2="445" stroke="#000" stroke-width="1.5"/>
<g transform="translate(627.6,406.6)"><path d="M8.28,0 L4.58,13.8 C3.75,17.25 2.52,21.2 3.55,23.42 C4.99,26.13 8.7,24.16 11.48,18.73" fill="none" stroke="#000" stroke-width="2.7" stroke-linejoin="round"/>
<line x1="0" y1="8.45" x2="13" y2="8.45" stroke="#000" stroke-width="1.45"/></g>
<text class="se" transform="translate(643.88,414.4) scale(0.2914,0.2924)" font-size="100" fill="#000" stroke="#000" stroke-width="0.4" vector-effect="non-scaling-stroke" stroke-linejoin="round">1</text>
<line x1="661.6" y1="422.2" x2="672.4" y2="391.9" stroke="#000" stroke-width="1.5"/>
<text class="se" transform="translate(675.78,414.33) scale(0.3119,0.2723)" font-size="100" fill="#000" font-style="italic" stroke="#000" stroke-width="0.4" vector-effect="non-scaling-stroke" stroke-linejoin="round">ν</text>
<text class="se" transform="translate(692.83,414.6) scale(0.3333,0.2783)" font-size="100" fill="#000" font-style="italic" stroke="#000" stroke-width="0.4" vector-effect="non-scaling-stroke" stroke-linejoin="round">z</text>
<rect x="485.4" y="23.2" width="190.4" height="171" fill="#fff" stroke="#000" stroke-width="1.8"/>
<text class="se" transform="translate(550.48,44.2) scale(0.2827,0.2323)" font-size="100" fill="#000" font-style="italic" stroke="#000" stroke-width="0.1" vector-effect="non-scaling-stroke" stroke-linejoin="round">L</text>
<text class="se" transform="translate(637.1,40.8) scale(0.2723,0.2191)" font-size="100" fill="#000" font-style="italic" stroke="#000" stroke-width="0.1" vector-effect="non-scaling-stroke" stroke-linejoin="round">g</text>
<rect x="504.5" y="56.3" width="13" height="13" fill="none" stroke="#000" stroke-width="1.2"/>
<text class="se" transform="translate(539.1,69.4) scale(0.2486,0.2522)" font-size="100" fill="#000" stroke="#000" stroke-width="0.25" vector-effect="non-scaling-stroke" stroke-linejoin="round">400</text>
<line x1="597.8" y1="61.4" x2="612.9" y2="61.4" stroke="#000" stroke-width="1.3"/>
<text class="se" transform="translate(614.5,69.4) scale(0.2489,0.2522)" font-size="100" fill="#000" stroke="#000" stroke-width="0.25" vector-effect="non-scaling-stroke" stroke-linejoin="round">0.004</text>
<circle cx="511" cy="85.8" r="7.3" fill="none" stroke="#FF0000" stroke-width="1.2"/>
<text class="se" transform="translate(539.1,92.2) scale(0.2486,0.2522)" font-size="100" fill="#000" stroke="#000" stroke-width="0.25" vector-effect="non-scaling-stroke" stroke-linejoin="round">400</text>
<line x1="597.8" y1="84.2" x2="612.9" y2="84.2" stroke="#000" stroke-width="1.3"/>
<text class="se" transform="translate(614.52,92.2) scale(0.2456,0.2522)" font-size="100" fill="#000" stroke="#000" stroke-width="0.25" vector-effect="non-scaling-stroke" stroke-linejoin="round">0.005</text>
<polygon points="511,97.37 520.83,114.84 501.17,114.84" fill="none" stroke="#0000FF" stroke-width="1.2" stroke-linejoin="miter"/>
<text class="se" transform="translate(539.1,114.8) scale(0.2486,0.2522)" font-size="100" fill="#000" stroke="#000" stroke-width="0.25" vector-effect="non-scaling-stroke" stroke-linejoin="round">400</text>
<line x1="597.8" y1="106.8" x2="612.9" y2="106.8" stroke="#000" stroke-width="1.3"/>
<text class="se" transform="translate(614.52,114.8) scale(0.2445,0.2522)" font-size="100" fill="#000" stroke="#000" stroke-width="0.25" vector-effect="non-scaling-stroke" stroke-linejoin="round">0.006</text>
<line x1="490.4" y1="132.6" x2="531.8" y2="132.6" stroke="#000" stroke-width="3.1" stroke-linecap="round"/>
<text class="se" transform="translate(538.59,138) scale(0.2521,0.2522)" font-size="100" fill="#000" stroke="#000" stroke-width="0.25" vector-effect="non-scaling-stroke" stroke-linejoin="round">600</text>
<line x1="597.8" y1="130" x2="612.9" y2="130" stroke="#000" stroke-width="1.3"/>
<text class="se" transform="translate(614.5,138) scale(0.2489,0.2522)" font-size="100" fill="#000" stroke="#000" stroke-width="0.25" vector-effect="non-scaling-stroke" stroke-linejoin="round">0.004</text>
<line x1="490.4" y1="155.7" x2="531.8" y2="155.7" stroke="#FF0000" stroke-width="3.1" stroke-linecap="round"/>
<text class="se" transform="translate(538.59,160.5) scale(0.2521,0.2522)" font-size="100" fill="#000" stroke="#000" stroke-width="0.25" vector-effect="non-scaling-stroke" stroke-linejoin="round">600</text>
<line x1="597.8" y1="152.5" x2="612.9" y2="152.5" stroke="#000" stroke-width="1.3"/>
<text class="se" transform="translate(614.52,160.5) scale(0.2456,0.2522)" font-size="100" fill="#000" stroke="#000" stroke-width="0.25" vector-effect="non-scaling-stroke" stroke-linejoin="round">0.005</text>
<line x1="490.4" y1="178.7" x2="531.8" y2="178.7" stroke="#0000FF" stroke-width="3.1" stroke-linecap="round"/>
<text class="se" transform="translate(538.59,183.2) scale(0.2521,0.2522)" font-size="100" fill="#000" stroke="#000" stroke-width="0.25" vector-effect="non-scaling-stroke" stroke-linejoin="round">600</text>
<line x1="597.8" y1="175.2" x2="612.9" y2="175.2" stroke="#000" stroke-width="1.3"/>
<text class="se" transform="translate(614.52,183.2) scale(0.2445,0.2522)" font-size="100" fill="#000" stroke="#000" stroke-width="0.25" vector-effect="non-scaling-stroke" stroke-linejoin="round">0.006</text>
</svg></body></html>
